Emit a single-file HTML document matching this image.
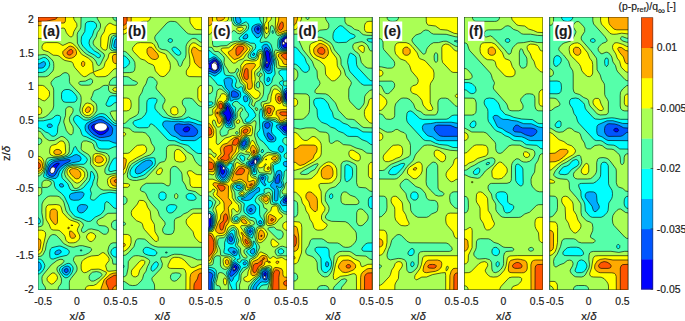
<!DOCTYPE html><html><head><meta charset="utf-8"><style>html,body{margin:0;padding:0;background:#fff;width:685px;height:321px;overflow:hidden}svg{display:block}text{font-family:"Liberation Sans",sans-serif;fill:#1a1a1a;stroke:#1a1a1a;stroke-width:0.18px}</style></head><body>
<svg width="685" height="321" viewBox="0 0 685 321">
<defs>
<clipPath id="c0"><rect x="38.00" y="17.1" width="78.4" height="272.70"/></clipPath>
<clipPath id="c1"><rect x="123.28" y="17.1" width="78.4" height="272.70"/></clipPath>
<clipPath id="c2"><rect x="208.56" y="17.1" width="78.4" height="272.70"/></clipPath>
<clipPath id="c3"><rect x="293.84" y="17.1" width="78.4" height="272.70"/></clipPath>
<clipPath id="c4"><rect x="379.12" y="17.1" width="78.4" height="272.70"/></clipPath>
<clipPath id="c5"><rect x="464.40" y="17.1" width="78.4" height="272.70"/></clipPath>
<clipPath id="c6"><rect x="549.68" y="17.1" width="78.4" height="272.70"/></clipPath>
</defs>
<g clip-path="url(#c0)"><rect x="38.00" y="17.1" width="78.4" height="272.70" fill="#fff"/>
<path d="M38.5 16.6l78.4 0.0l0 273.7l-79.4 0.0l0 -273.7z" fill="#0000ff" stroke="#000" stroke-width="0.7" stroke-opacity="0.9"/>
<path d="M38.5 16.6l78.4 0.0l0 273.7l-79.4 0.0l0 -273.7zM94.3 124.2l-2 1.0l-0.7 1.1l0 1.1l0.8 1.5l2 2.2l3.9 3.0l2.7 0.7l2.2 -0.6l2.9 -1.7l2 -2.2l0.4 -1.9l-0.3 -1.0l-0.8 -1.1l-1.5 -1.1l-4.7 -1.4zM56.1 163.6l-3.1 2.1l-2.5 3.2l-0.3 1.1l0 2.1l1 1.1l1 0.1l1 -0.7l3.6 -5.8l2.6 -3.2l-1.3 -0.5z" fill="#0055ff" stroke="#000" stroke-width="0.7" stroke-opacity="0.9"/>
<path d="M38.5 16.6l78.4 0.0l0 273.7l-79.4 0.0l0 -273.7zM97.6 119.9l-7 3.2l-1.9 2.1l-0.4 1.1l0.1 2.1l2 3.1l3.6 3.3l4.3 2.3l1.9 0.5l4 -0.3l4.8 -1.0l2 -0.9l1.1 -1.7l0.6 -4.2l-0.1 -1.1l-1.2 -2.1l-3.3 -2.9l-5.7 -3.5l-2.2 -0.4zM61.5 160.4l-6.4 1.0l-2.9 1.6l-2 2.0l-1.6 2.8l-0.8 3.2l-0.1 2.2l0.3 1.0l0.9 1.1l2.3 1.0l2 0.0l1 -0.4l1.5 -1.7l2.2 -4.2l1.6 -2.2l4.5 -3.5l5.8 -2.9l0.7 -1.0l-1.6 -0.9zM65.0 269.0l-0.7 1.1l0.1 1.1l0.6 0.9l0.9 0.5l1.5 -0.4l0.8 -1.0l-0.3 -2.1l-1 -0.6z" fill="#00aaff" stroke="#000" stroke-width="0.7" stroke-opacity="0.9"/>
<path d="M38.5 16.6l78.4 0.0l0 22.5l-1 0.0l-1 1.1l-1.1 5.1l0 1.1l0.6 1.1l2.5 0.6l0 77.6l-2 -0.2l-1.9 -1.0l-8.8 -7.2l-2 -0.7l-2 -0.1l-2.9 0.8l-10.4 5.8l-1.5 2.1l-0.4 2.2l0.5 3.1l1.6 2.2l4.3 3.6l6.9 3.6l2.9 0.9l7.8 0.0l5 2.1l2.9 0.4l0 147.0l-79.4 0.0l0 -19.5l1 0.0l1.3 -0.7l0.9 -1.1l0.6 -2.1l-0.2 -2.1l-0.7 -1.5l-0.9 -1.1l-2 -0.4l0 -193.7l3.9 0.0l1.6 -0.4l1.4 -1.1l1.2 -2.1l-0.5 -2.1l-0.7 -0.7l-1 -0.1l-3.9 2.1l-2 0.3l0 -47.4zM48.3 124.2l-1.1 1.0l0 1.1l1.1 1.1l2.9 0.0l1 -1.1l0 -1.1l-0.9 -1.0l-1.1 -0.3zM74.3 155.0l-2.5 1.5l-2.9 1.0l-4.9 1.2l-8.8 1.3l-4 1.4l-2.1 2.2l-1.8 3.7l-1.3 5.9l0.3 2.4l1 1.0l2.9 1.1l4 0.8l1.9 -0.2l1.7 -1.9l1.5 -4.3l1.2 -2.1l4.5 -4.3l2.9 -1.5l3.9 -1.3l7.3 -1.5l1.5 -1.0l0.5 -2.2l-1.2 -2.1l-3.2 -1.6zM60.0 183.8l-0.7 1.1l0.7 1.6l1 0.6l2 -0.1l0.7 -1.1l-0.7 -1.6l-1 -0.6zM76.9 192.3l-5.1 1.0l-1.8 1.2l-0.5 1.0l0.1 2.2l1.2 1.9l3 0.7l4.9 -0.2l1.9 -1.0l2.6 -2.5l0.8 -2.1l-0.1 -1.1l-0.9 -1.1l-2.4 -0.4zM79.4 205.1l-1.7 1.9l-0.4 2.4l0.8 2.1l1.5 1.2l2 0.2l2 -0.7l2.9 -2.8l1.1 -2.2l-0.1 -1.0l-1 -1.1l-1 -0.3l-3.9 -0.3zM58.6 249.9l-2.4 1.0l-1 1.1l-0.4 1.0l0.4 1.3l0.9 0.4l2 -0.2l2.5 -1.5l0.6 -1.0l-0.1 -1.1l-1.1 -0.9zM64.4 266.9l-2.4 2.1l-0.1 2.2l1.2 2.1l1.9 1.5l1.9 0.3l1 -0.3l2.1 -2.6l0.6 -2.1l-0.3 -2.1l-0.7 -1.1l-1.7 -0.9l-2 0.2z" fill="#00ffff" stroke="#000" stroke-width="0.7" stroke-opacity="0.9"/>
<path d="M38.5 16.6l78.4 0.0l0 19.9l-2 0.2l-1.5 1.2l-0.8 2.1l-1.1 6.4l0.5 1.7l1 1.0l1.9 0.7l2 0.1l0 46.1l-4.9 -0.3l-2.5 0.8l-3.5 7.4l0.1 1.1l0.9 1.0l2 0.4l2 -0.6l3.5 -2.9l2.4 -0.5l0 21.1l-2 -0.2l-1.9 -1.1l-6.9 -7.2l-1.9 -1.0l-2 -0.4l-2 0.1l-1.9 0.6l-6.9 4.5l-2 0.9l-2.9 0.5l-2.9 -0.5l-4.9 -3.8l-2 -0.6l-2.2 1.4l-0.7 1.2l-0.3 2.0l1 2.1l5.8 7.5l1.7 5.3l1.3 1.1l3.2 1.0l8.5 4.3l1.4 2.1l0.9 3.2l0.7 1.1l1.2 1.0l2 0.4l7.8 0.1l5 -2.2l2.9 -0.3l0 11.3l-2 0.1l-1.9 1.3l-3 5.6l-1 2.9l-0.3 2.2l0.4 1.0l1.9 0.6l3.9 -1.0l2 -0.2l0 22.8l-6.9 -0.9l-7.8 1.5l-2 0.9l-5.5 5.1l-1.3 0.4l-2.1 -0.4l-0.8 -1.1l-0.1 -1.0l1 -4.3l-1 -3.2l-0.1 -1.1l2.1 -4.2l0.7 -3.2l1.3 -3.2l0.2 -2.1l-1.2 -3.0l-2 -2.4l-0.7 1.1l-0.4 5.3l-1 3.2l-5.7 6.9l-3 1.9l-4.9 1.3l-3.9 -0.3l-1.8 -1.3l-2.2 -5.3l-5.2 -5.3l-0.6 -1.1l-0.4 -3.2l1.6 -4.2l2.6 -3.2l2.1 -1.3l5.9 -1.3l9.8 0.1l1.9 -1.1l1.7 -2.8l0.1 -1.1l-0.8 -1.4l-1.7 -1.8l-5.8 -4.2l-1.7 -2.2l-1.6 -3.1l-0.9 0.1l-0.8 0.9l-1.6 4.3l-1.3 2.1l-2.9 2.1l-5.2 1.6l-11 1.6l-2.7 1.1l-1 1.0l-1 2.0l-3.3 10.8l-0.4 2.2l0.8 1.0l1 0.4l6.8 2.3l1.8 1.6l0.6 4.2l0.9 2.2l2 2.1l4.1 3.2l2.8 3.2l4 8.5l1.6 5.3l3.8 5.0l1.9 1.4l4.9 1.4l5.9 2.9l2 0.4l2.3 -0.4l4.5 -4.0l4.9 -2.3l2.4 -2.2l1.9 -3.2l0.3 -5.4l0.3 -1.1l1 -1.1l1 -0.1l1.9 1.1l5 5.2l2.9 0.6l0 38.7l-2 0.1l-1.9 0.9l-1.4 1.6l-0.8 2.1l0.5 2.1l1.7 1.9l1.9 1.0l2 0.2l0 33.1l-79.4 0.0l0 -16.2l2 -0.3l2.1 -1.6l2.3 -3.2l1 -3.2l-0.6 -2.1l-1.9 -3.2l-2 -1.3l-2.9 -0.3l0 -34.8l2 -0.5l0.8 -1.4l0.1 -1.1l-0.9 -2.5l-1 -0.7l-1 0.0l0 -90.0l2 0.1l1.9 0.8l4 3.1l2.9 1.1l3.4 2.9l1.5 0.4l1.7 -0.4l1.4 -1.1l1.1 -2.1l0.5 -6.4l2.1 -4.8l0.7 -3.7l-0.3 -1.1l-0.9 -1.1l-2.4 -0.4l-1.9 0.7l-2 1.9l-2 1.2l-7.8 1.8l-5.9 0.1l0 -48.4l4.9 -0.1l3 -1.1l3.3 -3.6l1 -3.2l-0.3 -2.1l-1.1 -2.1l-1 -1.2l-1.9 -1.4l-2 -0.2l-3.9 1.7l-2 0.3l0 -42.9zM87.2 21.9l-1.3 1.1l-0.5 1.0l-0.6 7.5l-3.3 5.3l-0.4 4.3l0.5 2.9l1.5 2.4l5.1 5.3l6.2 3.4l2.9 2.3l1 0.4l0.9 -0.1l0.8 -0.7l0.5 -1.0l-0.3 -1.2l-1 -1.1l-4.8 -2.8l-2.5 -2.4l-1.8 -2.1l-1.1 -3.2l0.5 -3.2l2.8 -4.3l1.7 -5.3l2.3 -3.2l0.3 -1.0l-0.3 -2.1l-1 -1.3l-1.9 -1.2l-3 -0.3zM63.8 90.1l-1.8 1.9l-0.5 2.3l0.1 4.3l1.4 2.7l1 0.6l1.9 0.4l6.9 0.0l2 -0.3l1.6 -1.3l0.7 -2.1l-0.4 -2.1l-1.5 -2.2l-3.4 -3.5l-2.9 -1.3l-3 0.0zM55.9 246.7l-4 1.0l-1.2 1.1l-0.6 1.1l-0.4 3.1l0.1 3.2l0.4 1.5l1 1.2l2 0.2l6.8 -2.3l6.9 -1.5l2 -1.7l0.4 -1.6l-0.2 -1.1l-0.7 -1.0l-1.6 -1.1l-5.8 -2.6l-1.9 -0.2zM80.4 249.9l0 1.0l1.4 0.0l0 -1.0zM66.6 263.7l-5.6 3.2l-1 1.1l-0.6 2.1l0.8 2.1l2.8 3.8l1 1.0l1.9 0.9l2 -0.6l2.3 -1.9l2 -3.2l1 -3.2l-0.3 -2.1l-2.1 -2.8l-1.9 -0.8z" fill="#55ffaa" stroke="#000" stroke-width="0.7" stroke-opacity="0.9"/>
<path d="M38.5 16.6l42.6 0.0l-0.2 10.6l-0.9 2.2l-2.3 3.1l-0.5 2.2l0.2 8.5l2.2 4.0l4 4.5l2.6 2.2l6.2 3.6l1.9 1.7l1.6 2.1l1.4 3.4l1 0.8l1 -0.1l1 -0.9l4.2 -8.5l-0.5 -2.1l-8 -6.4l-2 -2.2l-0.9 -2.1l0.3 -2.1l2.8 -4.3l1.2 -4.3l2.2 -3.1l0.9 -2.2l0 -3.2l-3.1 -5.3l-0.3 -2.1l15.7 0.0l0.2 1.6l0.9 1.6l1.6 1.0l1.4 0.2l0 13.9l-2.9 0.3l-1.3 0.5l-1 1.1l-0.8 2.1l-1.3 7.5l0.3 2.1l1.1 1.6l2 0.8l3.9 0.3l0 25.6l-2.9 0.6l-2 1.3l-2.2 2.8l-0.9 3.2l1.1 0.5l6.9 0.1l0 8.4l-3.9 -0.4l-3 -1.2l-1.4 -2.0l-0.1 -4.3l-0.4 -0.4l-3 -0.1l-1.9 0.4l-4 3.0l-4.8 1.9l-1 1.5l-1 3.3l-1.5 3.2l0.5 1.4l3.9 2.8l0.8 1.1l0.7 2.1l0.1 4.3l-1.8 3.2l-2.7 2.6l-2 1.3l-1.9 0.5l-3 -0.3l-2.9 -1.8l-1.9 -2.3l-1 -3.2l1.4 -8.5l0 -4.3l-0.5 -2.1l-1.4 -2.1l-9.1 -9.6l-0.7 -2.2l0 -4.2l-0.5 -2.5l-1.6 -1.8l-2.3 -0.4l-2 0.7l-3 2.6l-4.8 1.8l-3 2.8l-1.2 2.1l0.2 1.7l2 3.3l0.5 2.5l0 15.9l-0.8 3.2l-4.6 5.4l-2.8 2.1l-3.1 1.2l-4.9 0.2l0 -41.3l7.9 0.0l2.9 -1.0l4.6 -4.9l0.7 -2.1l0.2 -2.2l-0.1 -3.2l-0.6 -2.1l-1.6 -2.1l-4.2 -3.8l-2.9 -0.9l-6.9 0.7l0 -38.6zM88.8 79.4l-3.3 1.7l-5.7 0.4l-0.9 1.1l0 1.1l0.9 1.0l1.8 0.5l6.9 0.0l1.9 -0.4l2 -1.9l0.2 -2.4l-1.2 -1.6l-1 -0.1zM67.9 106.9l1.9 -0.2l2 0.7l1 1.1l0.4 1.8l-0.5 2.1l-2.8 4.3l-0.6 2.1l0.6 3.2l2.8 4.3l0.6 2.1l-0.1 3.2l-0.4 1.9l-1 1.1l-1 0.2l-1.9 -1.0l-2.6 -3.3l-2.6 -8.5l0.3 -2.0l1.5 -4.4l0.2 -6.4l0.5 -1.0zM112.0 111.1l4.9 -0.3l0 10.3l-1.5 -0.1l-1.5 -1.1l-3.1 -5.3l-0.6 -2.2l0.8 -1.0zM38.5 131.0l1.7 0.6l1.2 1.1l2.9 4.2l2.2 2.2l2.8 1.5l4.9 -0.1l6.8 -4.0l1 -0.1l2 0.7l2.5 2.0l1.7 2.1l0.9 2.1l0.3 3.2l-0.2 5.4l-1.1 2.1l-1.2 1.0l-2.9 1.3l-4 0.8l-10.7 0.6l-2 0.5l-1.2 2.2l-1.2 7.4l-1.5 4.1l-3 3.4l-0.9 0.5l-2 0.3l0 -31.4l2 -0.2l0.9 -0.5l1 -1.3l0.5 -1.5l-0.6 -2.1l-1.8 -0.9l-2 -0.1l0 -7.1zM83.6 141.0l2.9 -0.1l4.9 1.5l2 2.0l1.2 4.3l1.7 1.9l2 0.8l7 1.5l1.8 0.9l1.3 1.2l0.9 2.2l-0.2 3.2l-1 2.7l-3.1 5.8l-0.2 3.2l1.3 2.0l2 0.6l8.8 -1.7l0 17.7l-6.9 -0.7l-6.8 0.1l-3 -1.3l-2.6 -2.9l-0.7 -2.1l1 -6.4l-0.4 -3.2l-1.5 -3.2l-5.3 -6.4l-0.3 -1.0l0.3 -4.3l-0.4 -2.1l-1.8 -2.7l-5.9 -3.5l-1.1 -1.3l-0.4 -1.0l0.4 -5.4l0.5 -1.0zM72.8 165.6l5.9 0.5l5.6 1.7l2.1 2.2l1.2 3.2l0 3.2l-1.3 3.1l-5.7 6.4l-1.9 1.6l-2 0.9l-1.9 0.0l-1 -0.6l-2.2 -4.0l-5.7 -6.6l-1.2 -3.0l0.2 -3.2l1.8 -3.2l2.2 -1.3zM44.4 180.4l1.9 -0.3l2 0.2l2.5 1.4l0.5 1.0l0 1.1l-1.1 1.8l-2.9 1.7l-4.9 0.2l-0.6 -1.6l0.3 -3.2l0.5 -1.0zM38.5 187.6l2.9 0.1l0.3 0.4l0.1 4.2l-0.4 1.4l-1 1.3l-0.9 0.6l-2 0.3l0 -8.3zM48.3 196.4l1.9 -0.4l6.9 0.1l2 0.6l1.9 1.6l2 2.4l1 2.0l1.9 7.7l2 3.2l4.9 4.9l6.8 2.3l3.2 2.4l0.7 2.2l-2.1 4.2l0.2 1.7l1 1.0l1 0.2l1 -0.4l3.9 -2.8l2.9 -0.4l6.9 1.6l4.9 3.6l1.9 0.2l1.4 -0.4l1.3 -1.1l0.7 -2.1l-0.3 -2.2l-0.6 -1.0l-2.5 -1.5l-5.9 -0.5l-1.9 -1.8l-0.4 -1.5l0.2 -1.1l1.2 -1.5l4.9 -2.5l2.9 -2.6l2 -1.2l8.8 -0.1l0 6.9l-2 0.2l-1.9 0.9l-1.4 2.0l-0.2 2.2l0.6 2.1l1 1.2l1.9 1.1l2 0.2l0 12.8l-3.9 0.0l-2 0.8l-1 0.9l-1.2 2.2l-1 4.2l0.9 3.2l3.6 5.3l0.7 4.7l3.9 0.1l0 26.1l-47.5 0.0l-0.1 -7.4l0.3 -2.2l1.3 -2.1l5.1 -6.4l1 -2.1l0.1 -2.1l-0.5 -2.2l-3.2 -5.3l0.4 -2.6l1 -1.3l0.9 -0.6l6.9 -0.5l2.9 -0.9l3.2 -1.6l2.4 -2.1l0.5 -1.0l-0.1 -1.1l-1.2 -1.1l-7.7 -2.0l-3 0.0l-5.8 1.5l-2 -0.2l-3.9 -1.1l-4.3 -2.4l-3.6 -4.4l-3.9 -3.9l-1.9 -0.6l-2 0.1l-2 1.2l-2.5 4.4l-1.4 4.1l-0.9 5.5l-2.1 4.2l-0.9 1.2l-1.5 0.9l-3.4 0.5l0 -29.6l3.5 -0.7l1.4 -1.0l0.5 -1.1l0.2 -4.3l-1.3 -7.4l0.2 -8.6l1.4 -3.1l2.9 -3.2zM92.5 272.2l-2.5 2.2l-0.9 2.1l0.1 2.1l0.5 1.1l1.7 1.3l2 0.1l1.9 -0.8l4.6 -2.8l1.9 -2.1l0.1 -1.0l-0.7 -1.1l-2 -1.2l-2.9 -0.5zM60.1 259.3l2 0.1l1 0.4l0.7 0.7l0.1 1.1l-1.7 2.1l-4.7 3.2l-0.7 2.1l0.6 2.2l2.7 4.2l1.3 3.2l0.1 3.2l-0.6 2.1l-2.4 3.2l-0.6 3.2l-12.1 0.0l-0.6 -3.2l-2.8 -4.2l-0.5 -4.3l0.3 -2.1l1.3 -2.1l7.8 -9.6l5.7 -4.3z" fill="#aaff55" stroke="#000" stroke-width="0.7" stroke-opacity="0.9"/>
<path d="M38.5 16.6l34.9 0.0l0.7 3.2l2.6 3.7l0.3 2.7l-3.1 5.3l-1.1 4.1l-1 1.2l-1 0.1l-1 -0.4l-1.9 -1.7l-1.6 -2.3l-1.3 -3.5l-1 -0.8l-1 -0.2l-1.5 0.3l-6.3 2.6l-5.9 5.7l-2 1.4l-1.9 0.5l-7.9 -0.1l0 -21.8zM108.1 24.0l1.9 -1.0l4.1 2.1l2.8 0.4l0 7.8l-4.9 0.3l-2.2 1.1l-1.1 2.1l-1.6 11.7l-1 1.6l-1 0.1l-1.7 -0.6l-1.5 -1.1l-1.2 -2.1l0.1 -8.5l0.7 -2.2l2.7 -3.9l1.2 -4.6zM44.4 43.1l1.9 -0.5l10.8 0.0l2 0.5l2.9 2.0l1 0.3l5.9 -2.8l1.9 0.1l2 0.9l3.9 3.6l4.9 7.1l6.7 3.8l3.5 3.2l0.9 2.1l0.7 8.3l1 0.0l6.8 -2.6l2.1 -1.4l0.7 -1.1l1.2 -4.2l2.8 -4.3l1 -4.4l1 -0.8l1 -0.2l5.9 -0.3l0 16.0l-2.9 0.6l-5.9 6.2l-3 1.4l-6.8 0.2l-2 -0.3l-1.6 -1.3l-1.3 -2.8l-3 0.9l-4.1 2.9l-1.7 0.5l-1 -0.2l-2.1 -1.3l-6.6 -7.5l-1.1 -1.9l-0.8 -2.4l-1.2 -1.5l-6.8 -1.4l-2 -1.1l-3.9 -3.3l-2 -0.7l-3.9 -0.2l-4.9 -3.4l-4.9 -1.5l-1.3 -1.8l-0.1 -2.1l0.9 -2.1zM38.5 85.3l3.9 0.1l2 0.8l3.9 3.8l1 1.5l0.3 2.8l-0.6 2.2l-2.7 3.2l-1.9 1.2l-2 -0.5l-2.9 -1.9l-2 -0.3l0 -12.9zM114.0 87.9l2.9 -0.4l0 4.0l-2.8 -0.4l-1.2 -1.0l-0.1 -1.1zM85.5 103.6l2 -0.6l2.9 0.6l2.2 1.4l1.1 2.1l0 3.2l-0.9 2.1l-1.9 2.2l-2.1 1.0l-2.3 0.0l-1.9 -0.9l-1.2 -1.2l-1 -2.1l0 -2.2l0.7 -2.1zM38.5 106.7l1.2 0.4l1.3 1.1l0.5 1.0l0.3 2.2l-0.4 1.8l-1 1.1l-2.9 0.6l0 -8.2zM61.0 140.9l2 0.3l1 0.8l1.2 2.4l0.5 7.5l-0.2 1.0l-0.7 1.1l-2.8 1.4l-3.9 0.9l-4.7 -0.2l-2.5 -1.1l-0.9 -1.0l-0.4 -2.1l0.3 -3.2l0.7 -2.2l1.6 -1.2l3.9 -1.0l3.9 -3.1zM95.3 153.6l3 0.0l2.9 0.5l3 1.4l1.7 1.7l0.7 2.1l-0.3 2.1l-1.2 2.1l-1.9 1.8l-3 1.0l-2.9 0.0l-2 -0.8l-1.9 -1.9l-0.5 -2.2l0.2 -5.3l0.3 -1.1l1 -1.0zM38.5 156.3l1.9 0.4l2 1.6l1.4 3.1l0.3 4.3l-0.7 3.2l-1.1 2.1l-1.9 1.8l-2.9 0.7l0 -17.2zM69.8 167.6l4 -0.6l3.9 0.5l3.2 1.4l2.7 2.2l1.1 2.1l0 3.2l-2.1 3.1l-3 2.8l-1.9 0.8l-1 0.0l-1.9 -0.9l-3 -2.7l-3.7 -4.2l-1 -2.1l-0.2 -2.2l1 -2.1zM114.0 175.2l2.9 -0.3l0 13.6l-3.9 -0.3l-3 -1.0l-1.4 -1.3l-0.8 -2.1l-0.4 -3.2l0.6 -2.1l2 -1.8zM48.3 204.9l7.8 -0.4l3.5 0.6l1.4 1.8l1.6 5.7l5.3 5.7l2.4 1.7l6.5 2.2l1.7 1.0l0.7 1.1l0.1 1.1l-1.6 3.1l-0.4 2.2l2.1 4.2l0.5 2.2l-0.7 2.1l-1.8 2.1l-1.7 1.0l-1.9 0.5l-4 0.1l-1.9 -0.6l-1.9 -2.0l-1 -3.8l-1 -1.6l-4 -4.0l-1.9 -0.7l-4.9 -0.2l-1.3 -0.4l-1.2 -1.1l-1.6 -4.2l-2.7 -4.3l-0.5 -2.1l0 -9.6l0.7 -2.1zM38.5 230.2l2.9 0.0l2.2 0.5l1.8 1.8l0.3 2.4l-3.6 16.0l-1.7 2.5l-1.3 0.7l-1.6 0.2l0 -24.1zM90.4 232.6l2 0.3l1.7 1.0l1.1 1.0l0.5 1.1l-0.1 1.1l-1.2 2.1l-2 2.0l-1 0.4l-1.7 -0.3l-1.2 -0.9l-1.7 -2.3l-0.3 -1.0l0.2 -1.1l1.3 -2.1zM102.2 252.7l1 -0.1l1.9 1.0l2.5 2.6l1.4 2.2l0 2.3l-2.4 3.0l-1 2.1l1.5 5.0l1.9 0.5l7.9 -0.8l0 19.8l-31.7 0.0l0.3 -2.3l1.7 -1.9l2.2 -0.5l4 -0.1l2.9 -1.3l9 -8.8l1.1 -2.1l-0.1 -1.1l-6.1 -2.8l-1.9 -0.3l-6.9 0.3l-4.9 2.9l-1.9 0.4l-1 -0.2l-1.6 -1.3l-0.8 -2.2l-0.1 -4.2l0.8 -3.2l2 -2.2l3.6 -2.1l3.9 -1.3l6.9 -0.6zM52.2 273.0l2 0.0l1 0.6l1.6 1.8l0.7 2.1l-0.4 1.9l-1 1.4l-2.9 2.9l-2 0.5l-3 -2.4l-0.9 -1.2l-0.3 -2.0l0.5 -1.1l1.7 -2.1z" fill="#ffff00" stroke="#000" stroke-width="0.7" stroke-opacity="0.9"/>
<path d="M38.5 16.6l27 0.0l-0.1 4.2l-0.4 1.4l-1 0.8l-2 0.1l-3.9 -0.7l-5.9 0.9l-5.9 2.3l-8.8 0.1l0 -9.1zM68.9 46.4l1.9 -0.3l3 1.2l1.9 2.3l0.8 2.1l0 2.2l-0.8 1.5l-1.7 1.6l-2.2 1.1l-2.9 0.3l-3 -0.8l-1.9 -1.6l-1.2 -2.1l0 -2.2l0.8 -1.0zM114.0 54.6l2.9 -0.4l0 9.6l-2.2 -0.4l-1.3 -1.0l-0.5 -1.1l-0.6 -4.3l0.7 -1.8zM82.6 61.4l1 -0.1l1 1.0l0.2 1.1l-0.2 1.9l-1 1.1l-1 0.0l-0.9 -0.8l-0.3 -1.1l0.2 -2.0zM87.5 107.1l1 -0.3l1.2 0.3l0.8 1.1l0.1 1.0l-1.2 2.5l-1.9 0.9l-1 -0.1l-1 -1.0l-0.2 -1.2l0.9 -2.1zM56.1 149.5l2 -0.1l1.9 0.6l1.5 1.9l0 1.0l-1 1.1l-2.4 0.7l-2 -0.1l-1.6 -0.6l-0.7 -1.1l0 -1.0l0.4 -1.1zM97.3 155.9l2.9 0.1l2 1.2l1.2 2.1l-0.1 1.1l-1.1 1.5l-2 0.9l-1.9 0.2l-1.8 -0.5l-1.1 -1.1l-0.3 -1.0l0.1 -2.2l1.1 -1.8zM38.5 159.2l1.9 0.9l1.1 1.3l0.9 2.2l0.2 3.2l-0.7 2.1l-1.5 1.7l-0.9 0.5l-2 0.3l0 -12.2zM71.8 168.8l2 -0.2l2.4 0.3l2.2 1.1l1.2 1.0l1.1 2.2l0.2 2.1l-1 2.1l-1.2 1.1l-2 0.4l-1.2 -0.4l-1.7 -1.2l-3 -3.2l-1.1 -2.0l-0.2 -1.1l0.4 -1.0zM113.0 177.4l3.9 -0.7l0 9.5l-2 -0.1l-1.9 -0.6l-1 -0.7l-1.3 -2.1l-0.4 -2.1l0.3 -1.1l0.8 -1.0zM52.2 209.2l2 -0.2l1.5 0.4l1.1 1.0l0.5 1.1l0.2 9.6l-0.3 2.1l-1.1 1.2l-0.9 0.2l-1 -0.5l-3.2 -4.1l-1 -2.1l-0.2 -2.1l0.3 -4.3l1.1 -1.8zM70.8 225.3l1 -0.3l1.1 0.4l-1.1 0.3zM68.9 227.0l0.4 0.5l-0.4 1.4l-1.1 -0.4l0.1 -1.0zM69.8 231.0l2 0.4l3 2.9l0.7 1.7l-0.2 1.1l-1.1 1.0l-2.4 0.2l-1.6 -1.2l-0.7 -3.2zM38.5 238.8l1.9 0.9l0.6 2.7l-0.9 6.4l-0.6 1.2l-1 0.8l-1 0.0l0 -12.0zM113.0 273.2l3.9 -0.4l0 17.5l-16 0.0l0.2 -2.1l3.1 -8.5l5.8 -5.3z" fill="#ffaa00" stroke="#000" stroke-width="0.7" stroke-opacity="0.9"/>
<path d="M38.5 16.6l18.6 0.0l0 1.0l-0.8 1.1l-1.1 0.6l-8.9 1.9l-8.8 0.1l0 -4.7zM70.8 49.4l1 0.3l1 1.0l0 2.1l-2 2.0l-0.9 0.3l-1.7 -0.2l-1 -1.0l-0.1 -1.1l0.5 -1.1l1.3 -1.4zM38.5 162.5l1 0.7l0.8 1.4l0.1 2.2l-0.9 1.4l-2 0.5l0 -6.2zM115.9 179.5l1 0.0l0 3.3l-1.1 -0.1l-1.5 -1.0l-0.1 -1.1zM114.0 275.4l2.9 -0.3l0 10.6l-2 0.3l-1.4 1.1l-0.6 1.1l-0.3 2.1l-4.1 0.0l-0.2 -2.1l-2.2 -5.2l0.3 -2.3l1.7 -1.7z" fill="#ff5500" stroke="#000" stroke-width="0.7" stroke-opacity="0.9"/>
<ellipse cx="100.8" cy="127.0" rx="6.6" ry="4.2" transform="rotate(0 100.8 127.0)" fill="#fff" stroke="#000" stroke-width="0.7" stroke-opacity="0.9"/>
<ellipse cx="52.6" cy="170.2" rx="2.4" ry="3.4" transform="rotate(20 52.6 170.2)" fill="#fff" stroke="#000" stroke-width="0.7" stroke-opacity="0.9"/>
</g>
<rect x="38.25" y="17.35" width="77.9" height="272.20" fill="none" stroke="#000" stroke-opacity="0.65" stroke-width="0.5"/>
<g clip-path="url(#c1)"><rect x="123.28" y="17.1" width="78.4" height="272.70" fill="#fff"/>
<path d="M123.8 16.6l78.4 0.0l0 273.7l-79.4 0.0l0 -273.7z" fill="#0000ff" stroke="#000" stroke-width="0.7" stroke-opacity="0.9"/>
<path d="M123.8 16.6l78.4 0.0l0 273.7l-79.4 0.0l0 -273.7zM185.0 127.4l-1.3 1.0l-0.5 1.1l0.1 1.0l1.1 1.1l1.1 0.3l2 -0.2l1.7 -1.2l0.6 -2.1l-0.5 -1.0l-1.8 -0.7z" fill="#0055ff" stroke="#000" stroke-width="0.7" stroke-opacity="0.9"/>
<path d="M123.8 16.6l78.4 0.0l0 273.7l-79.4 0.0l0 -273.7zM176.2 124.2l-1.4 1.0l-0.4 1.1l0.3 3.6l1.1 1.7l5 4.3l2.8 0.5l9.8 0.0l1.9 -0.7l1.8 -2.0l0.6 -2.1l-0.6 -2.1l-3.5 -3.2l-2.2 -1.5l-3 -0.8l-4.8 0.5l-5 -0.7z" fill="#00aaff" stroke="#000" stroke-width="0.7" stroke-opacity="0.9"/>
<path d="M123.8 16.6l78.4 0.0l0 108.5l-4 -0.5l-4.8 -1.9l-4 -0.9l-4.9 0.2l-5.9 -0.8l-6.8 0.2l-4.9 -0.5l-2 0.2l-1.6 0.9l-0.7 2.2l0.4 1.6l1 1.5l6.8 7.6l1.7 1.0l3.2 1.0l3.9 2.7l2 0.9l12.7 0.2l2 -0.7l3.9 -2.9l2 -0.4l0 153.6l-79.4 0.0l0 -273.7zM146.3 160.4l-4.1 2.1l-5.7 4.9l-1.2 2.6l0 2.1l0.6 1.1l1.6 0.7l3.2 -0.7l9.5 -6.7l1.9 -1.9l0.4 -2.1l-1.3 -1.9l-2 -0.6z" fill="#00ffff" stroke="#000" stroke-width="0.7" stroke-opacity="0.9"/>
<path d="M123.8 16.6l78.4 0.0l0 105.3l-2 -0.2l-4.9 -2.1l-3.2 -0.8l-3.7 -1.9l-4.8 2.2l-7.9 0.3l-3.9 -0.3l-8.8 -2.1l-4 -3.5l-2.9 -3.3l-1.2 -2.0l0.1 -3.2l1.8 -3.2l0.2 -2.1l-0.9 -1.1l-1 -0.3l-2.9 -0.3l-3.1 0.6l-1.3 1.1l-0.6 1.0l-0.4 2.2l-0.1 8.5l-1.5 3.2l-3.8 3.9l-6.8 2.3l-1.4 1.2l-0.2 1.1l0.5 1.1l2 2.2l2 1.1l1.9 0.3l7.9 -0.1l1 -0.4l1 -1.0l0.9 -2.1l1 -0.3l1 0.3l2.9 2.1l12.8 13.6l1.9 0.7l4.9 0.2l5.9 2.8l6.9 1.7l1.9 1.2l1.9 2.2l5 4.0l1.9 0.8l4 0.0l0 136.8l-79.4 0.0l0 -22.9l1 0.0l0.3 -0.5l-0.3 -1.6l-1 0.0l0 -197.3l2 -0.2l1.9 -1.1l2.1 -2.2l0.9 -2.1l-0.7 -2.2l-2.3 -2.6l-1.9 -1.5l-2 -0.3l0 -39.2zM168.9 38.9l-0.8 1.1l0 1.1l0.8 0.9l1.9 0.5l1 -0.5l0.6 -0.9l0.1 -1.1l-0.7 -1.0l-1 -0.4zM172.8 47.5l-0.7 1.0l0 1.1l1.7 2.7l3.2 2.6l1.6 0.4l1.3 -0.4l0.8 -1.0l0.1 -1.1l-0.4 -1.1l-1.7 -2.1l-3 -2.3l-1.9 -0.2zM146.7 158.2l-6.8 3.2l-4.9 3.2l-2.5 2.2l-1.9 3.1l-0.6 2.2l0 2.1l1.5 2.2l2.1 1.0l2.9 0.1l6.9 -2.2l1.9 -1.3l8.9 -8.1l0.7 -1.3l0.5 -2.1l-0.5 -4.3l-1.7 -0.5zM160.7 192.3l-1.3 1.1l-0.5 1.1l0 3.2l1.1 1.7l1 0.6l2 0.2l1 -0.2l0.9 -0.7l1.1 -1.6l0.1 -3.2l-0.6 -1.1l-1.5 -1.2l-2 -0.3zM189.3 193.4l-1.8 0.6l-1.3 1.5l0.1 2.2l0.6 1.0l1.5 1.2l2 0.4l3 0.0l1.9 -0.7l0.7 -0.9l0 -1.0l-1.3 -2.2l-2.3 -1.7zM168.6 205.1l-1.7 1.8l-0.4 2.5l0.8 2.1l1.2 1.1l1.3 0.4l2 -0.2l2 -1.2l1.9 -2.2l1.1 -2.2l-0.1 -1.0l-1 -1.1l-1 -0.3l-3.9 -0.2zM145.1 247.7l-1.4 1.1l-0.7 2.1l0.8 2.1l1.5 1.1l3 1.1l4.9 0.6l1.9 -0.4l1.4 -1.3l0.4 -1.1l-0.1 -1.0l-2.4 -2.1l-6.1 -2.4l-2 -0.2zM165.7 252.0l-0.1 1.0l1.5 0.0l0 -1.0zM154.4 262.6l-2.5 3.2l-0.9 2.2l0.1 2.1l1.1 1.1l1 -0.2l1.9 -1.4l2.3 -2.7l0.9 -2.1l-0.2 -1.6l-1 -1.2l-1 -0.3z" fill="#55ffaa" stroke="#000" stroke-width="0.7" stroke-opacity="0.9"/>
<path d="M123.8 16.6l78.4 0.0l0 17.6l-10.8 0.1l-3 -0.5l-1.9 -1.3l-9.8 -10.3l-2 -0.7l-3.9 -0.2l-1.9 0.5l-2 1.2l-10.7 11.7l-1.1 1.6l-0.4 1.6l0.5 2.1l2.2 3.2l1.5 4.3l0.9 1.0l2.2 1.0l3.9 0.5l2 1.1l8.7 9.1l1.2 2.2l0.8 2.8l1 1.1l1 0.0l0.8 -0.7l1.5 -4.3l2.6 -3.8l0.5 -2.6l0 -8.5l0.6 -2.1l1.8 -2.7l3 -2.5l1 -0.6l1.9 -0.2l2 0.7l3.9 3.0l2 0.3l0 64.2l-2 -0.2l-2 -1.0l-5.8 -6.5l-3 -0.7l-3.9 0.1l-1.2 0.4l-1.3 1.1l-0.8 2.1l0.4 2.6l2.7 3.8l0.6 2.1l-0.5 2.1l-1.8 2.5l-2.4 1.8l-4.5 0.8l-3.9 -0.2l-3.9 -1.6l-1.5 -1.1l-4.6 -6.4l0 -3.2l1.9 -3.2l0.4 -2.1l-1.2 -2.2l-7.5 -8.5l-0.4 -2.1l1.2 -3.2l-0.4 -2.2l-3.6 -4.0l-3 -0.6l-1.3 0.4l-1.2 1.1l-1.7 5.3l-2.6 4.0l-1.4 4.5l-2.7 4.3l-0.4 2.1l0 11.7l-0.7 3.2l-1.9 2.1l-6.7 3.5l-3.9 3.7l-0.9 0.5l-2 0.2l0 -38.2l11.8 -0.1l1.7 -0.5l1 -1.0l0 -1.1l-0.8 -0.9l-3.9 -1.6l-3.9 -3.0l-2 -0.5l-3.9 0.0l0 -3.9l6.8 -0.1l3 -0.5l1 -0.6l1 -1.4l0.5 -3.5l-0.3 -4.2l-1.7 -3.2l-6.4 -6.8l-1.9 -1.0l-2 -0.1l0 -34.7zM123.8 127.7l4.9 0.5l1.9 1.2l2 1.9l2 0.8l7.8 0.1l2.9 0.7l2 1.8l2.6 3.3l1.6 5.3l2.4 3.2l0.7 2.2l-0.6 2.1l-2.8 3.4l-1.3 0.8l-5.5 1.9l-5.9 3.0l-6.3 3.7l-1.6 1.4l-1.9 3.8l-1.4 5.4l0.3 3.2l2 1.9l3 1.0l3.9 0.2l7.9 -1.7l1.9 -1.1l9.8 -10.6l2.9 -3.9l2 -1.0l3 -0.6l1.4 -1.2l1 -3.2l0 -7.5l0.3 -2.1l1.2 -1.7l1.9 -0.8l4 -0.1l2.9 0.4l2.9 0.8l2.9 1.4l5 4.5l4.9 2.9l2.9 6.3l2.9 3.3l2 1.2l2 0.2l0 29.7l-2 -0.3l-4.9 -3.8l-6.9 -1.5l-1.6 -1.0l-1.6 -4.2l-2.8 -4.3l-0.4 -6.4l-0.7 -2.1l-3.6 -4.3l-1.5 -1.0l-1.5 -0.5l-2.3 0.5l-1.7 2.1l-0.4 2.1l0 11.7l-0.5 2.1l-0.9 1.1l-2 -0.2l-2.9 -2.0l-2 -0.5l-15.7 0.1l-2.9 1.6l-2 2.1l-1.1 2.1l0.2 1.1l0.9 1.0l3 1.0l1.4 1.2l2.3 5.3l3.1 4.4l5.9 6.5l1.1 1.9l1.2 4.3l5.4 6.4l0.4 2.1l-2.4 4.2l-0.2 2.2l0.8 2.1l1.5 1.2l3 0.5l2.9 -0.2l1.2 -0.4l1.3 -1.1l1 -3.2l0 -8.5l0.4 -1.4l1 -1.3l4.9 -1.9l3 -2.5l3.9 -1.6l2.9 -2.3l2 -1.0l1.9 -0.3l7.9 0.0l0 38.5l-44.1 -0.2l-3 -0.6l-2.9 -1.3l-2.6 -1.7l-3.4 -3.2l-1.8 -1.2l-5 -0.4l-1.9 0.3l-1.6 1.3l-2 6.4l-5.2 5.9l-3 2.4l-2.9 0.6l0 -30.1l2 -0.4l0.6 -0.8l0 -1.1l-1 -1.0l-1.6 -0.2l0 -17.6l2 -0.2l0.9 -0.6l1 -1.3l0.4 -1.4l-0.2 -2.2l-0.7 -1.0l-1.4 -1.2l-2 -0.2l0 -68.6zM175.7 193.7l1 0.0l0.8 0.8l0.4 1.0l-0.2 2.2l-1 0.9l-1 0.1l-1 -1.0l-0.2 -1.1l0.2 -1.9zM171.8 254.9l2.9 -0.7l5.9 0.2l10.8 2.8l5.9 2.6l4.9 0.1l0 30.4l-47.5 0.0l-0.2 -5.3l-0.7 -2.1l-1.6 -2.6l-0.3 -1.7l0.5 -1.1l8.1 -8.5l1.4 -2.1l0.5 -3.2l-1.6 -4.3l-0.2 -1.0l0.4 -1.0l1 -0.4l4.9 0.2zM172.4 273.3l-1.6 1.5l-0.4 2.7l0.8 2.2l1.6 1.2l1.9 0.3l2 -0.8l2.9 -2.9l1.2 -2.1l0 -1.0l-1.2 -1.2l-3.9 -0.4zM133.6 256.1l1.9 -0.4l3 0.0l5.9 1.3l4.3 2.4l0.8 1.1l0.2 1.1l-0.7 2.1l-1.7 3.2l-1.3 4.3l-2.3 3.2l-1.1 4.2l-1.2 2.1l-3.9 3.9l-2 0.8l-2.9 0.2l-3 -0.5l-4.8 -3.4l-2 -0.3l0 -4.5l2 -0.3l0.9 -0.6l1 -1.5l1.4 -6.5l0.2 -6.4l2.3 -3.2z" fill="#aaff55" stroke="#000" stroke-width="0.7" stroke-opacity="0.9"/>
<path d="M123.8 16.6l26.8 0.0l0 1.0l-0.8 2.2l-1.2 1.0l-1.3 0.5l-3.9 0.0l-2.3 0.6l-3.6 2.8l-4.9 2.2l-5.9 6.0l-1.9 1.0l-2 0.2l0 -17.5zM190.4 16.6l11.8 0.0l0 13.2l-5.9 -0.3l-2 -1.1l-0.9 -1.1l-3.1 -4.3l-0.4 -2.2l0 -4.2zM137.5 43.0l2.9 -0.4l10.8 0.2l2 1.0l1 1.0l2 3.7l1.9 2.3l1.9 1.2l5.2 1.9l0.9 1.0l1.2 3.2l2.5 4.0l0.6 3.5l-0.2 3.2l-0.7 2.1l-3.6 4.3l-1.5 1.0l-1.4 0.5l-3 -0.7l-4.6 -5.1l-1.1 -4.3l-1.1 -1.6l-4.9 -1.9l-3.6 -2.9l-4.3 -1.4l-6.8 -7.1l-1.2 -2.1l0.4 -2.1l2.7 -3.2zM192.4 43.1l1 -0.3l1.9 0.3l4.9 3.3l2 0.3l0 30.1l-12.8 -0.2l-1.9 -0.8l-1.2 -1.7l0 -3.2l2.8 -4.3l0.7 -2.1l0 -5.3l-1 -7.5l0.3 -4.2l1.3 -2.9zM200.2 85.7l2 -0.3l0 16.6l-1.6 -0.2l-1.4 -0.9l-0.8 -1.2l-0.6 -2.2l0 -8.5l0.8 -2.1zM123.8 98.0l2.9 0.0l2 0.5l1.4 1.2l0.6 1.0l0.5 3.2l-0.2 3.2l-0.9 2.1l-1.4 1.2l-2 0.5l-3.9 0.0l0 -12.9zM172.8 106.9l1.9 -0.2l1 0.2l1 0.6l1 1.6l0.3 3.3l-0.4 1.1l-1.3 1.1l-1.6 0.3l-1.9 -0.3l-1.4 -1.1l-0.6 -1.1l-0.1 -3.2l0.5 -1.0zM123.8 132.5l1 0.2l0.9 1.0l-0.1 1.1l-1.2 1.1l-1.6 0.2l0 -3.6zM137.5 145.3l4.9 -0.4l2 0.4l0.9 0.6l1.4 2.8l-0.5 3.2l-0.9 1.0l-3.1 2.1l-5.7 2.9l-6.9 4.3l-1.4 2.4l-2.6 7.5l-0.8 1.4l-1 0.8l-1 0.0l0 -20.9l4.9 -0.1l1.9 -0.7l5.9 -6.0zM176.7 149.5l1.9 -0.1l2 1.0l4.2 4.6l1 2.2l0.1 1.0l-0.4 1.5l-1 1.3l-1.9 0.8l-3 0.2l-2.9 -0.5l-1.6 -1.1l-0.7 -2.2l0 -5.3l0.7 -2.1zM159.1 168.5l2 -0.6l1.1 1.0l0.2 2.1l-1.3 2.6l-1 0.7l-1.9 0.3l-1.1 -0.4l-0.8 -1.0l0 -1.1l1.3 -2.1zM188.4 170.9l1 -0.2l2 0.2l3.9 2.9l2 0.8l4.9 0.2l0 12.7l-8.8 -0.1l-1.5 -0.4l-1.3 -1.1l-0.6 -2.1l-0.2 -5.3l-2.5 -5.3l0.1 -1.1zM123.8 183.4l4.7 0.4l1.1 1.1l-0.1 1.0l-1.8 1.4l-4.9 0.1l0 -4.0zM139.4 200.3l4 0.3l1.9 1.2l1 1.6l1.3 3.8l2.6 3.9l0.9 7.9l3.2 5.3l0.7 7.4l3.2 5.4l0 3.2l-1.1 1.1l-1.7 -0.1l-1.2 -0.9l-9.7 -10.8l-1.2 -2.1l-0.9 -3.4l-1 -1.4l-4.9 -2.0l-3.9 -3.9l-1 -1.6l-0.4 -2.6l0.7 -2.2l5.5 -6.4l1.4 -3.1zM193.4 213.3l8.8 -0.1l0 29.5l-3 -0.6l-3.8 -4.0l-1.2 -2.1l-1.2 -4.3l-5.5 -6.3l-1.2 -2.2l-0.2 -2.1l0.6 -2.1l4.4 -4.3zM123.8 234.4l3.9 0.1l1.9 0.9l1 1.4l0.4 1.3l0.1 4.3l-0.9 3.2l-2.4 3.2l-3 2.2l-2 0.2l0 -16.8zM174.7 257.3l3.9 0.1l3 1.0l3 2.1l4.8 5.4l2 1.5l2.9 -0.1l4.9 -2.5l3 -0.5l0 26.0l-16.3 0.0l0.1 -17.0l-0.9 -3.2l-1.3 -1.1l-1.2 -0.4l-11.8 -0.2l-2 -0.4l-0.9 -1.1l0.2 -2.1l2.6 -5.4l2.1 -1.6zM141.4 260.3l2 0.0l1 0.5l0.5 0.8l-0.3 2.1l-4.8 6.4l-1.3 4.5l-1 1.5l-2 0.8l-1.9 -0.2l-1 -0.6l-1.1 -1.7l-0.2 -2.2l0.5 -2.1l7.6 -8.5z" fill="#ffff00" stroke="#000" stroke-width="0.7" stroke-opacity="0.9"/>
<path d="M123.8 16.6l7.4 0.0l0 4.2l-1 3.2l-2.5 3.2l-2.9 2.2l-2 0.3l0 -13.1zM149.2 47.2l2 0.0l1 0.5l5.4 6.2l0.9 2.1l-0.4 1.7l-1 1.1l-2 0.8l-2.9 -0.5l-2 -1.4l-2.2 -2.8l-1 -2.1l0 -3.2l0.5 -1.1zM193.4 47.2l1.9 0.3l3.9 3.1l3 0.5l0 16.9l-2 -0.2l-1 -0.5l-3 -2.8l-1.6 -2.1l-1 -4.3l-2.2 -6.4l0.6 -3.2zM123.8 157.9l1.2 0.3l1.1 1.1l0.2 2.1l-1.5 6.8l-1 1.3l-1 0.0l0 -11.6zM123.8 243.3l1 0.4l0.5 0.8l-0.1 1.1l-1.4 1.1l-1 0.0l0 -3.4zM199.2 268.9l3 -0.3l0 21.7l-12.3 0.0l0.1 -12.8l0.7 -3.1l0.7 -1.1l2.8 -2.1z" fill="#ffaa00" stroke="#000" stroke-width="0.7" stroke-opacity="0.9"/>
<path d="M123.8 16.6l3.3 0.0l0 4.2l-0.5 2.2l-0.9 1.2l-1.3 0.9l-1.6 0.2l0 -8.7zM200.2 273.2l2 -0.2l0 17.3l-8.3 0.0l0 -4.2l0.4 -2.5l3 -4.6l1.3 -4.6z" fill="#ff5500" stroke="#000" stroke-width="0.7" stroke-opacity="0.9"/>
</g>
<rect x="123.53" y="17.35" width="77.9" height="272.20" fill="none" stroke="#000" stroke-opacity="0.65" stroke-width="0.5"/>
<g clip-path="url(#c2)"><rect x="208.56" y="17.1" width="78.4" height="272.70" fill="#fff"/>
<path d="M209.1 16.6l78.5 0.0l0 21.7l-1 0.0l-1.4 0.6l-0.9 1.1l-0.2 1.1l0.5 1.2l1 0.5l2 0.2l0 247.3l-79.4 0.0l0 -273.7zM213.2 62.4l-0.9 2.1l0.3 2.1l1.4 1.4l0.9 0.3l1 -0.3l1 -1.4l0 -3.2l-1 -1.3l-1 -0.5l-0.9 0.1z" fill="#0000ff" stroke="#000" stroke-width="0.7" stroke-opacity="0.9"/>
<path d="M209.1 16.6l78.5 0.0l0 20.2l-2 0.3l-1.4 0.8l-1.7 2.1l-0.5 2.1l0.7 3.8l0.9 1.3l1 0.4l3 0.2l0 44.6l-1 0.0l-1 1.1l-0.4 3.0l0.4 2.3l1 1.0l1 0.0l0 25.7l-4 0.7l-1.2 1.2l0.4 1.0l1.8 2.1l1 0.6l2 0.3l0 66.3l-2 0.5l-1 1.6l0.3 1.1l0.7 0.6l2 0.2l0 88.6l-79.4 0.0l0 -63.0l0.9 0.0l1.2 -0.9l0.7 -4.2l-0.1 -3.2l-0.7 -2.2l-1.1 -0.6l-0.9 0.0l0 -147.7l1.9 0.3l4 2.2l1.7 -0.1l1.2 -0.6l1.3 -1.5l0.7 -3.2l-1.1 -3.2l-0.9 -1.2l-2 -1.2l-1.9 0.4l-3 2.9l-1 0.6l-0.9 0.0l0 -47.3zM256.9 28.3l0.2 1.5l0.9 0.6l1 -0.7l0 -1.6l-1 -0.5zM266.4 50.7l-0.8 1.0l-0.1 2.2l1.2 6.3l-1.2 5.4l0.4 1.5l1 0.8l1 -0.2l2.1 -5.3l0.4 -2.2l-1.1 -7.4l-1.5 -2.0zM226.6 107.1l-0.6 3.2l-0.8 1.1l-1.5 1.0l-0.3 1.1l2.1 2.1l1.2 4.2l0.7 1.2l1.2 0.4l2.6 -4.7l0 -2.1l-2.6 -7.2l-0.9 -1.3zM255.0 159.3l-1.3 1.1l-2.5 3.4l1 0.1l3.4 -2.5l1.2 -1.0l0.4 -1.1l-1.1 -0.3zM219.6 165.7l0.9 3.2l0.3 3.2l1 1.8l1 0.5l1.4 -1.2l0.4 -2.2l-3.5 -5.3l-1.3 -0.3zM234.4 265.8l-1.2 3.2l-0.1 1.1l0.5 1.1l1.9 -0.9l1.4 -2.3l-0.1 -1.1l-0.8 -1.1l-0.5 -0.3zM264.0 273.3l-0.1 1.6l1 1.5l1 -0.5l0.3 -2.6l-0.3 -0.6l-1 -0.3z" fill="#0055ff" stroke="#000" stroke-width="0.7" stroke-opacity="0.9"/>
<path d="M209.1 16.6l78.5 0.0l0 19.2l-3 0.6l-1.9 1.5l-1.6 2.1l-0.6 3.2l0.3 3.2l0.9 1.6l1.9 0.8l4 0.3l0 41.1l-1 0.0l-1.4 0.9l-0.6 1.3l-0.2 3.0l0.7 4.3l0.8 1.0l1.7 0.3l0 23.4l-3 0.3l-3.9 1.3l-0.8 0.3l-0.3 1.1l5 5.4l3 0.6l0 63.4l-2 0.2l-1.2 0.7l-0.7 1.0l-0.6 2.2l0 1.0l0.9 1.1l3.6 0.3l0 87.0l-76.5 0.0l0.3 -9.6l1.5 -5.3l-0.2 -1.0l-0.7 -1.1l-1.9 -0.9l-1.9 -0.2l0 -43.6l1.9 -0.4l1 -0.9l1 -3.0l0.2 -2.1l-0.2 -4.3l-0.7 -2.1l-1.3 -1.1l-1.9 -0.2l0 -143.3l1.9 0.2l4 1.8l1.9 -0.3l2.9 -2.1l1.2 -2.0l0.3 -2.2l-0.3 -2.1l-1.2 -2.6l-1.9 -2.1l-2 -1.2l-1.9 0.1l-3 2.2l-1.9 0.3l0 -44.6zM256.4 26.2l-1.3 1.0l-0.6 1.1l0 2.1l0.6 1.3l2 1.7l0.9 0.3l1 -0.1l1 -1.0l0.5 -1.1l0.3 -2.1l-0.3 -2.2l-0.5 -1.0l-1 -0.6zM265.7 47.5l-0.8 0.5l-0.4 1.6l0.8 9.6l-0.9 7.4l0.5 1.9l1 1.2l1.9 1.3l1 0.1l1 -0.5l0.4 -0.8l0.2 -3.2l1.7 -4.2l0.1 -2.2l-1.6 -7.4l-0.8 -1.9l-2 -2.4l-0.9 -0.8zM232.2 91.1l-0.6 0.8l-0.2 1.4l0.2 3.2l1 0.8l3.9 -0.1l1.6 -0.7l0.5 -1.1l-0.1 -1.1l-1 -1.6l-3 -1.6l-0.9 -0.3zM226.4 105.0l-1 4.2l-0.7 1.2l-2.2 2.0l-0.2 1.1l2.6 3.2l1.8 6.1l1.9 1.4l1 -0.3l0.5 -0.8l1.1 -3.2l1.7 -3.2l0.1 -1.1l-1.4 -5.3l-3 -5.3l-0.9 -0.7zM265.4 123.1l-0.7 1.1l0.2 2.5l1 1.3l1.9 0.4l1 -0.6l1 -1.5l0.3 -1.1l-0.3 -1.6l-1 -0.9l-1 -0.2zM267.1 133.7l0.2 2.2l1.8 3.2l1.7 0.9l1 0.0l1.6 -0.9l0.1 -1.1l-0.7 -1.1l-3 -3.2l-1 -0.8l-1 -0.1zM243.6 141.2l-1.2 1.3l-0.6 1.9l0.6 1.5l1 0.3l0.9 -0.3l1 -1.1l0.8 -2.5l-0.1 -1.1l-0.7 -0.8zM255.2 158.2l-1.8 1.1l-3.4 3.2l-0.9 1.1l0.2 1.0l1.9 1.2l1 0.1l1 -0.4l1.4 -1.9l3.7 -3.2l0.5 -1.1l0 -1.1l-0.8 -0.6zM218.5 164.6l-0.2 1.1l0.7 3.2l0.6 5.3l2.2 3.4l1 0.5l1 -0.2l0.9 -0.8l1.8 -2.9l0.7 -2.1l-0.1 -1.1l-0.6 -1.0l-4.8 -5.4l-1.9 -0.7zM278.5 174.2l-1.8 2.4l-1.3 2.9l-0.4 2.2l0.1 1.0l0.6 0.5l2.9 0.1l0.6 -0.6l0.7 -7.4l-0.3 -1.0zM261.4 177.4l-0.2 1.1l0.8 1.0l1 -0.1l0.6 -0.9l0.1 -1.1l-0.7 -0.4l-1 0.0zM250.2 208.3l-1.1 1.1l-0.1 1.0l0.9 1.1l1.3 0.0l0.9 -1.1l0.1 -1.0l-0.9 -1.1zM250.0 229.6l-1 1.1l0.2 1.4l1 0.6l1 -0.9l0.1 -1.1zM229.4 237.1l-0.6 2.1l0.3 1.1l1.1 1.0l1.4 0.1l0.9 -1.1l0.1 -1.1l-0.8 -2.1l-1.2 -1.1zM233.4 250.9l-0.7 1.1l0.6 1.0l1.2 0.5l0.6 -0.5l0.2 -1.0l-0.8 -1.0zM234.3 263.7l-0.7 0.8l-3.8 8.8l-0.1 1.1l0.9 1.9l1 -0.1l3.9 -3.4l2 -2.5l1 -2.3l0 -1.1l-1 -1.6l-2 -1.6zM263.6 271.2l-0.9 1.0l-0.3 1.1l0 4.2l0.5 1.1l1 0.9l2 0.4l1 -0.7l0.6 -1.7l0.2 -5.3l-0.6 -1.0l-1.2 -0.5z" fill="#00aaff" stroke="#000" stroke-width="0.7" stroke-opacity="0.9"/>
<path d="M209.1 16.6l26.4 0.0l0.1 3.2l0.6 2.1l0.7 1.1l1.6 0.5l2 -0.5l0.6 -1.1l0 -1.1l-1.3 -3.2l0 -1.0l47.8 0.0l0 18.3l-2 0.2l-1.6 0.6l-3.7 3.2l-0.9 2.2l-0.1 4.2l0.2 2.2l1.2 1.4l2 0.7l4.9 0.3l0 38.3l-2 0.2l-1 0.7l-0.9 2.0l-0.1 2.2l0.3 4.2l0.7 3.1l1 1.1l2 0.4l0 21.4l-2 0.1l-3.9 1.0l-4.9 0.3l-0.6 1.4l1.1 2.1l3.4 2.9l2.9 3.4l4 0.6l0 26.2l-3 0.1l-1 0.7l-0.3 1.3l0.3 1.3l1 1.3l3 0.6l0 29.1l-2 0.1l-1.4 0.6l-3.9 5.3l0.5 2.1l1.9 1.8l4.9 -0.6l0 85.1l-31.4 0.0l0.4 -3.2l3.5 -4.4l2 -0.9l3.9 0.4l1 -0.3l1.1 -1.2l0.7 -3.2l0.1 -5.3l-0.9 -2.1l-2 -0.6l-2.5 0.6l-1.3 1.1l-2.1 7.6l-3.5 3.0l-2.4 3.2l-1.2 2.1l-0.4 3.2l-40 0.0l0.2 -7.4l1.9 -6.4l0.1 -3.2l-0.7 -1.5l-2 -1.6l-2 -0.7l-1.9 -0.1l0 -39.9l1.9 -0.2l1.1 -0.8l1.2 -2.1l0.9 -4.2l-0.3 -5.4l-0.7 -2.1l-2.2 -1.4l-1.9 -0.2l0 -139.7l1.9 0.2l4 2.3l0.9 0.2l5.6 -4.1l0.9 -2.2l0.3 -2.1l-0.5 -3.2l-1.4 -3.2l-3.9 -3.7l-1.9 -0.8l-1 0.1l-3 1.8l-1.9 0.4l0 -42.5zM257.6 24.0l-2.5 0.7l-2.4 1.5l-0.6 1.0l-0.5 2.2l0.8 3.1l3.7 4.9l1 0.5l1.9 -0.7l1.5 -1.5l1 -2.1l0.3 -2.1l-0.2 -4.3l-0.6 -2.2l-1 -1.0zM245.1 34.7l-1.8 2.1l-0.4 1.1l0.6 1.0l2.4 0.0l1.5 -1.0l0.4 -1.1l-0.3 -2.1l-1.2 -0.7zM264.6 44.3l-1.6 1.0l-0.8 1.1l-0.2 1.1l1.6 4.2l0.7 5.3l-0.8 10.7l0.6 2.1l2.8 3.5l0.9 0.3l2 -0.1l1.2 -0.5l1 -1.0l0.3 -5.4l1.3 -4.2l-0.1 -2.2l-2.1 -8.5l-1.6 -3.6l-1.7 -2.8l-1.2 -1.0zM254.0 52.8l-1.3 1.1l-0.3 1.0l0.8 0.8l1.3 -0.8l0.3 -1.0zM225.2 78.4l-0.9 1.0l-0.3 1.1l0.7 4.2l1.2 3.2l3.1 3.2l0.5 2.2l0.7 7.4l0.4 0.4l1 -0.2l2.9 -1.6l3 -0.1l1.7 -0.6l0.9 -1.1l0.7 -2.1l-0.5 -3.2l-0.9 -1.1l-4.8 -2.1l-2.3 -2.1l-0.4 -2.2l0.6 -3.2l-0.4 -2.1l-0.9 -1.0l-1.6 -0.6l-1.9 -0.1zM267.2 78.4l-0.3 2.3l0.9 1.0l1 -0.2l1 -1.2l0 -2.0l-1 -0.9l-1 0.1zM243.7 96.5l-0.3 2.1l0.9 2.8l1 0.4l2 -0.6l0.6 -1.5l-0.6 -2.2l-0.8 -1.0l-1.2 -0.8l-1 0.2zM228.6 102.9l-1.9 0.4l-1 1.0l-1 4.9l-2.9 3.1l-0.2 1.2l0.4 1.1l2.1 2.1l0.5 1.1l0.6 4.2l0.8 2.2l1.7 1.6l1.9 0.4l1.5 -1.0l0.8 -4.2l2 -3.2l0.4 -2.2l-1.4 -6.4l-2.3 -3.1l-1 -2.3zM265.1 121.0l-2 1.0l-0.6 2.2l0.1 3.2l1.6 7.4l3.6 6.3l3 0.9l2.9 -0.2l1.2 -0.6l0.8 -1.1l0.2 -2.1l-0.4 -1.1l-3.2 -3.2l-0.8 -2.1l0 -2.1l1.1 -5.3l-0.2 -1.1l-1 -1.1l-1.6 -0.7l-2 -0.4zM244.9 139.1l-2.5 2.1l-1.3 2.1l-0.1 2.2l0.4 1.1l1 0.8l1 0.1l1.9 -0.9l1 -1.3l0.7 -2.0l0.2 -3.2l-0.9 -1.2zM280.6 145.5l-1.4 1.0l-0.9 2.2l0 1.0l1.3 1.8l2 1.1l1 -0.6l0.8 -1.2l0.3 -2.1l-1.1 -2.2zM255.9 157.2l-2.7 1.4l-4.8 3.9l-0.6 1.1l0.2 1.0l1.1 1.1l3.8 2.1l0.6 1.1l-0.1 2.1l0.7 1.5l0.7 -0.4l0.3 -1.1l-0.9 -3.2l0.4 -2.1l1.3 -2.1l3.5 -3.2l0.7 -2.2l-0.3 -1.0l-0.8 -0.8l-1 -0.1zM218.2 163.6l-0.6 1.0l-0.1 1.1l1 9.6l2.3 3.8l1 0.7l2 0.2l1.9 -1.4l2.9 -4.9l0.5 -1.6l-0.5 -2.9l-0.9 -1.0l-3 -1.5l-3.2 -3.1l-1.7 -0.5zM277.1 171.0l-0.7 1.1l-2.7 8.8l-2.4 2.9l-0.7 1.1l-0.1 1.0l1.3 1.8l2.2 1.4l0.6 1.1l-0.3 9.6l0.4 0.9l1 0.4l1.4 -0.2l0.7 -1.1l0.5 -7.5l-0.2 -3.2l-1.7 -2.1l0.2 -1.1l1 0.2l1 1.5l1 0.2l2 -0.8l0.8 -2.1l-1.6 -4.3l1.3 -5.3l-0.4 -3.2l-1.1 -1.5l-1 -0.2zM260.0 176.4l-0.3 2.1l1.3 3.3l2.9 3.6l1 0.5l1.2 -1.0l-1.5 -2.2l-0.1 -1.0l1.3 -3.2l0.1 -1.1l-0.4 -1.0l-2.5 -1.1l-2 0.4zM236.0 185.9l-0.2 1.1l1.7 1.3l1.9 0.6l2 -0.8l0 -1.1l-1 -1.2l-2 -0.5zM257.2 188.1l-3.1 2.7l-5.9 3.5l-2.9 3.1l-4.1 1.3l0.6 1.1l4.5 0.8l2.9 -0.5l2 -1.1l4.9 -5.8l3.4 -1.9l0.2 -2.2l-0.7 -1.6l-1 -0.1zM249.9 205.1l-1.7 1.0l-0.9 1.1l-0.5 1.1l-0.1 2.1l0.3 1.1l1.2 1.7l1 0.6l2 0.4l1.9 -0.6l1.5 -1.0l1 -2.2l0.3 -2.1l-0.8 -2.1l-1.9 -1.5l-1 -0.2zM258.9 221.1l-0.3 1.1l0.4 1.1l1 0.5l1 0.0l0.8 -0.6l0.2 -1.0l-1 -1.4l-1 -0.3zM248.3 228.5l-0.9 1.1l0 2.1l1.8 2.9l1 0.6l1 -0.1l1.5 -2.3l0.4 -3.2l-0.6 -1.1l-1.3 -0.6l-1 -0.1zM230.1 233.9l-2.3 3.2l-0.6 2.1l0 2.1l0.5 1.2l0.9 0.9l2 0.6l2 0.0l1 -0.8l0.9 -1.7l-0.1 -2.3l-1.8 -5.4l-1 -0.7zM230.0 247.7l-1.5 1.1l-0.3 1.1l0.1 1.0l5 4.3l2.2 0.5l1 -0.4l0.6 -1.2l0.2 -2.1l-0.6 -2.1l-1.2 -1.0l-2.9 -1.4zM252.7 248.8l-1.6 1.1l-0.8 1.0l-0.1 1.1l0.6 1.0l1.4 1.1l1 -0.1l0.9 -0.7l0.7 -2.4l-0.7 -2.5zM233.4 262.6l-2.1 5.4l-2.9 4.2l-0.3 1.1l0.2 2.1l1.3 3.3l1 2.0l1 0.8l1 -1.1l1.2 -2.9l2.7 -2.7l1 -1.7l2.3 -4.1l0.6 -2.1l-0.3 -1.1l-4.6 -3.7l-1 -0.3zM243.2 262.6l-0.1 1.1l0.7 1.1l1.5 0.1l1 -1.0l0 -1.3l-1 -0.8l-1 0.0z" fill="#00ffff" stroke="#000" stroke-width="0.7" stroke-opacity="0.9"/>
<path d="M209.1 16.6l24.1 0.0l0.2 3.2l0.7 2.1l1.5 2.1l1 0.6l1.9 0.3l2 -0.3l4.9 -2.6l1 0.1l1.2 0.9l0.7 1.2l0.5 2.0l-0.6 3.2l-8.3 7.4l-0.7 1.1l0 1.0l0.9 1.1l1.4 0.6l5.9 0.9l2.9 1.6l3.9 0.2l1.1 1.0l0.5 2.1l-0.5 2.1l-4.1 4.3l-0.9 2.1l0 1.1l0.7 1.0l1.3 0.8l1.9 0.0l1.2 -0.8l0.8 -1.1l1.2 -4.2l0.7 -1.3l2 -0.8l1 0.2l1 0.9l1 2.1l0.5 3.2l-1.1 12.8l0.5 2.1l1.5 3.2l-0.4 6.4l0.9 3.2l1 1.5l1 0.6l1.9 -0.6l2.7 -2.6l1.3 -4.9l2.2 -3.6l-0.1 -2.1l-0.7 -4.3l0.7 -6.4l-1.8 -6.4l-1 -6.4l-1.3 -4.3l-2 -1.8l-1.9 -0.7l-2 0.0l-3.9 0.9l-1 -0.9l0.2 -1.7l2.2 -4.3l0.4 -3.2l-0.7 -8.5l-2.2 -4.2l-0.3 -3.2l27.9 0.0l0 17.5l-3 0.4l-5.9 3.7l-0.7 1.8l-0.3 6.4l0.5 2.1l1.5 1.2l3 0.7l4.9 0.1l0 19.3l-6.1 0.0l-2.2 1.1l-0.5 1.1l0.4 2.1l3.1 3.2l0.8 2.1l0 1.1l-2.9 1.0l-0.8 1.1l0.3 1.3l1 1.1l1.5 0.8l0.5 1.1l0 5.3l1.2 8.5l0.7 1.3l1 0.8l2 0.3l0 19.5l-2 0.1l-3.9 1.1l-2 -0.1l-5.9 -2.7l-9.7 -2.2l-1.5 -2.1l-0.4 -6.4l-1.1 -1.7l-1 1.2l-0.9 4.8l0.7 13.8l-0.7 2.1l-1.8 2.2l-0.4 1.0l0.4 2.2l2.7 3.9l3 2.0l4.1 4.7l2.2 3.2l3.5 2.0l4.8 0.7l1.9 1.6l0.7 1.0l0.6 2.2l-0.5 3.2l-0.7 1.5l-1 1.0l-3.9 1.5l-1.3 1.3l-0.3 2.1l1 5.4l-0.1 2.1l-1.1 4.2l-1.1 1.6l-2 1.2l-1 0.1l-1 -0.7l-0.3 -1.1l0.5 -3.2l-0.2 -1.0l-0.8 -1.1l-1.1 -0.6l-3.9 -0.5l-3 0.8l-0.7 1.4l0.7 6.3l-0.4 1.1l-3.5 4.3l-6.9 4.5l-3.9 3.6l-2.9 0.8l-3 -0.5l-0.9 0.7l-0.1 0.5l1 2.1l5.2 3.2l0.6 1.0l-0.6 4.3l0.3 3.2l0.4 1.1l5.9 4.8l3 0.3l1.9 0.8l0.9 1.5l1 4.3l1.9 1.1l2.3 0.0l1.8 -0.9l0.6 -2.3l-0.6 -2.2l-2.6 -3.2l-0.8 -2.1l-0.2 -8.5l-0.5 -1.1l-2.8 -2.2l-1 -2.0l0.1 -1.1l1 -2.1l1.8 -2.2l5.5 -2.1l0.7 -1.1l-0.3 -2.1l0.4 -1.1l2.6 -0.8l1.9 -0.1l2.9 2.0l0.8 2.1l-0.2 9.6l1.4 1.1l3.9 0.4l1.9 1.7l2.1 4.2l1 1.2l1.9 1.2l3 0.4l0 78.2l-28.6 0.0l0.3 -2.1l1.8 -2.3l2 -0.9l3.9 -0.4l0.9 -0.8l1 -1.6l0.8 -3.6l0.1 -7.4l-0.9 -2.2l-1.9 -0.5l-3 0.4l-2.2 1.2l-0.7 1.1l-1.1 4.2l-0.9 1.8l-4 3.5l-3.2 4.3l-1 2.1l-0.4 3.2l-13.9 0.0l-0.4 -6.4l0.4 -1.3l2.2 -2.9l0.6 -6.4l3.1 -4.9l1 -0.7l2.9 -0.8l1 -0.9l0.5 -1.2l0.1 -2.2l-0.6 -1.7l-2 -0.9l-2.9 -0.2l-1 0.3l-1 2.1l-1 0.6l-1.9 -1.2l-0.5 -1.1l0.3 -1.1l2.1 -0.5l0.5 -0.5l0 -1.1l-1 -3.2l-0.2 -4.2l-0.5 -1.1l-2.3 -2.1l-0.6 -1.1l1.3 -5.3l-1.6 -4.3l-0.1 -4.3l-0.4 -1.1l-0.9 -0.8l-2 0.5l-2 1.8l-3.6 6.0l-1.5 4.3l0 5.3l-0.8 4.3l0.3 1.0l0.7 0.6l4.9 1.0l4.5 2.7l1.2 1.1l-0.2 1.0l-1.5 0.9l-1 1.4l-2 5.8l-3.5 3.7l-0.5 1.0l0.1 2.2l2.1 5.3l1 4.2l1.9 4.3l0.2 2.1l-18 0.0l0.1 -6.7l2.1 -7.1l0.1 -5.3l-0.4 -1.1l-1.8 -1.7l-3 -0.9l-2.9 -0.2l0 -37.0l1.9 -0.1l2 -1.4l1.8 -4.5l0.4 -3.2l-0.3 -5.3l-0.9 -2.2l-2 -1.7l-2.9 -0.5l0 -3.0l1.9 -0.3l1 -0.8l1.1 -2.2l0.4 -2.1l-0.4 -1.1l-1.1 -1.1l-2.9 -0.7l0 -94.5l3.3 -0.6l1.2 -1.1l0.3 -1.0l-0.9 -1.0l-3.9 0.0l0 -25.9l1.7 0.2l1.2 0.9l2 2.5l2.1 1.9l2.2 3.2l0.6 0.4l3.9 0.5l2.5 3.4l3.2 3.2l0.6 1.1l0.7 4.2l-0.5 3.2l-2.6 2.2l-0.6 1.0l-1 5.3l-2.3 2.2l-0.7 1.0l-0.2 1.1l0.4 1.1l2.6 3.2l0.7 6.4l0.8 2.1l1 1.1l1.3 0.4l1.9 0.0l2 -0.6l1 -0.9l0.4 -5.3l2.2 -3.2l0.4 -1.1l-0.7 -4.3l0.7 -4.2l-0.6 -1.1l-2.4 -1.6l-0.5 -1.6l0.8 -1.0l1.6 -1.3l2 -0.2l1.4 0.4l2.5 2.7l3 1.7l0.9 1.0l1.2 3.1l2.6 3.2l0.3 2.1l-0.4 1.1l-2.4 2.1l-0.6 1.1l0.1 1.1l0.7 1.0l1.5 0.4l2.2 -0.4l5.8 -5.3l0.4 -2.1l-2.5 -4.3l-4.3 -4.3l-0.3 -1.0l1.3 -3.2l0.2 -2.1l-2.8 -4.6l-4.1 -2.9l-0.8 -4.5l-1 -1.0l-1 0.1l-2 1.2l-0.9 0.1l-2 -1.2l-0.2 -2.2l1.1 -3.2l0 -1.0l-0.9 -2.2l-1 -1.2l-1.9 -1.2l-5.9 -0.3l-2 -1.0l-0.6 -1.6l-1.2 -7.4l-2.1 -5.5l-4.9 -4.7l-2.9 -1.5l-3 -3.0l-1.9 -0.4l0 -33.9zM272.1 31.5l0 1.0l0.7 1.1l0.6 -1.1l-0.6 -2.1zM244.9 138.0l-2.5 2.2l-1.9 3.1l-0.3 2.2l0.2 1.3l1 1.4l1 0.4l1.9 -0.2l2 -1.4l1 -1.5l0.8 -2.2l0.3 -2.1l-0.3 -2.1l-0.8 -1.1l-1 -0.4zM261.7 149.7l-0.7 2.2l1 1.0l1.4 -1.0l0.1 -1.1l-0.5 -1.2l-1 -0.2zM241.4 155.0l-1 0.3l-0.7 0.8l0 1.1l1.7 2.9l1 0.8l1 0.2l1.1 -0.7l0.3 -3.2l-0.9 -1.1zM258.2 155.0l-5.9 3.2l-2.2 2.2l-3.6 2.1l0.3 2.1l1 1.1l3.4 2.1l0.7 1.1l0.5 4.3l0.8 1.1l0.9 0.4l2 -0.3l0.7 -1.2l-1.2 -6.4l0.5 -2.2l3.9 -3.8l1 -1.5l0.1 -2.1l-0.6 -2.2l-0.5 -0.5zM218.5 162.5l-1.3 1.1l-0.4 1.0l0.5 5.4l-0.3 4.2l0.4 2.2l1.1 2.1l2.1 2.1l2.2 0.7l1.9 -0.3l2 -1.5l3.1 -5.3l1.3 -5.3l1.3 -3.2l-0.3 -2.1l-0.5 -0.5l-2 0.4l-1.9 2.4l-1 0.4l-2 -0.7l-2.9 -2.6l-2 -0.6zM238.4 183.8l-2.9 0.6l-1 0.5l-0.8 1.0l-0.1 1.1l0.9 1.8l3 1.9l3.9 -0.8l1.1 -0.8l0.4 -1.0l-0.3 -2.2l-0.9 -1.0l-1.3 -0.8zM236.1 216.8l-1.6 0.9l-0.5 1.3l0.4 1.0l1.1 0.5l2 -0.4l0.8 -2.2l-0.8 -1.2zM247.9 227.5l-1.4 1.0l-0.5 1.1l0.3 2.1l2.9 4.6l3 1.9l2.1 -6.5l0.2 -3.2l-0.4 -1.0l-1.9 -0.9l-2 0.1zM253.2 241.3l0.1 3.2l-0.8 2.2l-1.3 1.3l-3.4 1.9l-1.1 1.0l0 1.1l0.7 1.0l2.8 2.9l1 0.3l2 -0.3l1.9 -1.5l1.1 -2.4l0.6 -3.2l-0.3 -3.2l-2.4 -4.5zM280.3 248.8l-1.7 1.0l-0.5 1.1l0.4 2.1l1.1 0.8l1 0.2l2 -0.4l1.3 -1.6l-0.4 -1.9l-1.6 -1.3zM283.5 81.2l4 -0.3l0 5.1l-3.1 -0.2l-0.9 -0.5l-0.3 -1.6zM284.5 137.7l3 -0.4l0 7.9l-2 -0.3l-2.5 -2.6l-0.3 -1.1l0.4 -2.1zM286.5 152.8l1 0.0l0 5.7l-2 -0.3l-1.2 -1.0l-0.3 -1.1l0.7 -2.1zM285.5 170.2l2 -0.2l0 25.1l-4 0.6l-2.9 2.4l-0.5 -0.4l-0.2 -1.1l0.2 -5.3l0.5 -1.5l2 -1.9l0.9 -2.0l0.1 -2.1l-0.9 -3.2l1.2 -4.2l0.3 -4.3l0.4 -1.1z" fill="#55ffaa" stroke="#000" stroke-width="0.7" stroke-opacity="0.9"/>
<path d="M209.1 16.6l22.1 0.0l0.6 5.3l2.1 3.2l1.7 0.8l2 0.2l7.8 -1.0l1 1.0l0.2 1.1l-1 2.2l-2.2 2.1l-1.9 1.6l-2 0.7l-1.9 -0.5l-3 -2.5l-0.9 -0.3l-1 0.5l-1.9 2.6l-1.1 0.6l-12.7 -0.3l-2 0.3l-1.7 1.5l-1 2.2l0.3 6.4l0.8 2.1l3.6 0.4l3.9 -0.9l5.9 -0.3l3.9 -3.0l4.9 -1.3l2 -0.1l7.8 1.4l6.6 3.8l0.7 1.1l-0.6 2.1l-3.3 4.3l-0.8 2.1l0.1 1.0l0.8 1.1l3.4 1.4l1.9 0.0l2 -1.1l0.9 -1.4l1 -3.4l1 -1.7l1 -0.5l1 0.1l1 0.9l0.6 2.5l0.1 2.1l-1.5 10.7l-1.2 3.0l-1 1.1l-1.9 1.2l-0.3 1.1l0.3 1.3l0.9 0.9l1 0.2l1 -3.5l1 0.0l1 1.1l0 1.2l-1 1.2l-1.4 0.8l-0.1 2.1l0.5 1.8l2.1 1.4l1.3 3.2l0.3 2.1l-0.4 6.4l-0.8 2.2l-2.5 3.3l-4 2.0l-1 1.1l-0.9 3.4l-0.9 0.0l-1.6 -1.3l0 -1.1l0.8 -3.2l-1 -2.1l-3.2 -4.3l-3.5 -3.2l-1.3 -5.5l-3.5 -3.0l-0.8 -3.2l-1.8 -3.2l-0.7 -2.1l0.2 -1.1l1.8 -2.1l-0.2 -1.7l-0.9 -0.7l-1 0.3l-1.2 3.2l-1.7 0.8l-3 0.2l-2 -0.9l-0.9 -2.3l-3 -4.5l-0.8 -2.9l0.4 -4.3l-1.1 -2.1l-4.4 -4.0l-0.9 -0.5l-3 0.0l-0.9 -0.6l-2 -3.2l-1 -0.4l-2.9 -0.1l0 -30.6zM256.9 82.6l-0.8 1.7l0 1.8l1 1.6l1.4 0.2l1.1 -1.0l-0.1 -4.3l-0.5 -0.9l-1 0.1zM263.9 16.6l23.6 0.0l0 16.6l-3 0.4l-4.9 2.2l-2 -0.3l-1.6 -1.9l-2.3 -6.2l-0.9 -1.5l-1 -0.5l-1.1 0.8l-0.9 6.3l-0.8 2.2l-2.1 3.0l-1 0.5l-1 -0.1l-0.5 -1.3l-1.1 -9.6l0.2 -10.6zM275.7 50.0l4.9 1.1l6.9 0.1l0 16.9l-8.9 0.3l-1 -0.1l-0.9 -0.9l-0.4 -1.8l0 -4.3l-2.1 -7.4l0.5 -3.1zM209.1 85.3l2 0.4l1 0.7l0.5 1.5l0.1 2.2l-0.6 1.8l-1 1.2l-1 0.5l-1.9 0.2l0 -8.5zM273.7 85.5l2 -0.4l1 0.3l2.9 2.4l1 1.2l1.3 4.3l1.6 8.8l1 1.5l1 0.4l2 0.2l0 17.4l-6.9 1.4l-2 -0.8l-2.9 -2.4l-8.8 -1.4l-1.5 -0.6l-0.9 -1.1l-1.3 -7.5l-2.1 -4.2l0 -2.1l0.9 -1.0l3.9 -0.8l1 -0.6l0.5 -0.8l0.8 -4.3l1.7 -3.2l1.2 -4.3l0.7 -1.0zM219.8 88.8l2 0.7l4.7 3.8l1 2.1l0.4 2.1l-0.3 2.2l-0.6 1.0l-2.3 2.2l-0.9 5.8l-2.8 2.7l-0.5 1.0l0.1 2.2l2.6 3.2l0.4 2.1l-0.5 6.4l-2.8 4.2l-0.3 1.1l0.2 2.1l0.6 1.7l1 0.8l1 0.0l4.2 -1.4l0.9 -1.1l0.2 -2.1l0.5 -1.3l1.4 -0.8l3.9 -1.1l1.1 -1.0l0.1 -1.1l-1.2 -4.3l0.4 -1.0l2.5 -3.2l0.4 -1.1l-0.1 -4.3l2.9 -4.2l1.4 -0.3l1 0.9l0.1 1.5l-2.1 2.4l-0.4 2.9l2.3 4.3l1.2 3.2l1.8 0.7l3.9 0.0l1.9 -0.7l3 -2.4l1.5 0.3l0.5 2.1l-1.4 9.6l-0.1 3.2l2.3 7.4l1.8 3.2l0.6 2.2l-0.3 3.2l-1.2 2.1l-2.7 2.2l-3.9 1.4l-2 1.9l-1 0.3l-1 -0.5l0.2 -1.1l2.2 -2.1l-0.4 -1.5l-1 -0.5l-2.9 0.3l-3.9 -1.5l-1 0.1l-2 1.2l-2.3 4.0l2.3 1.2l3 3.3l2.9 1.1l3 2.5l2.9 1.7l1 2.0l0.3 4.2l1.7 1.8l2.9 0.8l0.6 0.6l1 2.1l0.1 2.2l-1.5 3.2l-2.2 2.8l-6.8 4.1l-3 3.1l-1.9 1.0l-2.3 -0.4l-1.1 -1.0l-0.2 -1.1l0.4 -1.1l3.9 -2.1l0.8 -1.1l0.3 -2.1l-0.8 -2.2l-2 -1.6l-3 -0.5l-3.9 0.9l-1.8 1.3l-0.5 1.0l0.1 2.2l2.4 4.2l0.7 6.4l1.6 2.2l3.4 2.4l0.6 0.7l0.2 1.1l-0.2 5.3l-0.8 2.2l-1.8 1.5l-2.9 1.0l-1.9 1.2l-1.2 1.6l0 2.1l0.8 1.1l1.3 0.6l3 0.0l0.9 -0.7l2 -4.0l1 -0.9l2.9 -0.3l2 1.0l2.9 2.9l4.2 1.4l0.8 1.1l0.2 1.0l-0.2 1.1l-1 0.6l-5 1.3l-2.8 1.3l-1 1.0l0.4 2.2l0.9 2.1l5.3 7.5l1 3.2l-0.3 2.1l-1.5 1.7l-4.6 1.5l-1.3 1.1l-0.4 1.0l0.3 2.1l2.7 3.2l0.3 1.1l-0.9 0.7l-1 0.1l-1.9 -0.7l-2.4 -3.3l-0.4 -2.1l0 -3.2l-0.4 -1.1l-2.4 -2.1l-0.3 -1.1l1.3 -4.2l-1.9 -4.3l-0.3 -5.3l-1.1 -2.0l-1 -0.8l-1.9 -0.3l-2 1.1l-1.7 2.0l-3.2 5.2l-1.9 1.8l-4.4 0.4l-1.2 1.1l-0.5 2.1l0 3.2l2.5 5.4l0.5 5.3l1.1 0.5l6.8 0.5l2.2 1.1l1 1.1l0.1 1.0l-0.8 4.3l-1.2 3.2l-1.3 1.3l-2.9 1.2l-1 0.0l-1.9 -0.8l-1.8 -1.7l-0.6 -2.1l0 -7.5l-0.6 -1.4l-2.9 -0.2l-2 1.0l-1 1.7l-0.9 5.6l-0.8 0.8l-1.2 0.4l-2.9 0.2l0 -34.3l1.9 0.0l2 -0.8l1.1 -1.8l1.7 -4.2l0.5 -3.2l0 -5.3l-0.5 -2.2l-1.9 -3.2l-0.1 -1.0l3.1 -7.5l-1.4 -2.1l-3.5 -3.1l-1 -0.6l-1.9 -0.3l0 -87.8l2.9 -0.5l2.6 -1.5l1.1 -1.0l0.4 -1.1l0.3 -4.2l1.1 -4.3l0.5 -4.3l0.9 -1.3zM236.3 131.6l-0.8 1.1l0.3 1.0l0.7 0.5l1 -0.1l0.4 -0.4l0.2 -1.0l-0.6 -1.0zM245.0 136.9l-1.6 1.2l-2 2.3l-1.1 1.9l-0.7 2.1l-0.2 2.1l0.7 2.2l1.3 1.3l1 0.2l2.9 -1.0l2 -1.6l1.2 -2.1l0.9 -3.2l0.1 -2.2l-0.5 -2.1l-1.7 -1.3zM234.3 159.3l-1.7 1.7l-3.1 1.5l-2.8 2.5l-1 0.0l-2.9 -2.2l-2 -0.9l-2 -0.2l-1.9 0.8l-0.8 2.1l0.3 5.4l-0.7 6.4l0.8 2.1l2.2 2.1l2.1 1.2l3 0.5l2.4 -0.6l1.5 -1.2l3.3 -6.3l2.3 -6.4l0.6 -5.3l1.9 -3.2l-0.3 -0.6zM255.1 108.1l1 -0.5l1.2 0.6l0.5 1.0l-0.7 1.5l-1.1 -0.4zM266.9 152.7l1.9 -0.4l4 1.1l3.9 0.2l1.9 1.4l0.7 2.2l-0.2 2.1l-1.4 2.1l-4 1.9l-1.3 1.3l-0.5 2.2l-0.1 5.3l-1 2.1l-5.9 -1.1l-4.9 -0.3l-1 -0.5l-2.3 -5.5l0.5 -2.2l4.3 -4.2l1.5 -4.5zM286.5 182.6l1 0.0l0 11.4l-4 0.0l-1.1 -0.6l-0.4 -2.1l2.3 -3.2l1.2 -4.9zM268.8 192.2l1 0.5l1.2 2.8l0.2 2.2l-0.8 4.2l0.4 1.9l1 0.6l3.9 0.0l1.9 0.6l1 1.2l1.5 4.2l0.7 1.1l3.7 2.4l3 0.5l0 33.1l-2 -0.3l-2.9 -1.0l-2 0.3l-4.1 2.3l-1 1.1l-0.5 2.1l1.6 3.2l1 0.7l5 -0.2l4.9 0.3l0 34.3l-19.6 0.0l0.1 -2.1l2.2 -7.5l0.4 -9.5l-0.1 -2.2l-0.6 -1.0l-2.1 -0.7l-4.8 1.1l-2 1.2l-1 1.6l-1 3.6l-0.9 1.7l-5.1 4.2l-4.2 5.4l-0.6 4.2l-8.5 0.0l-0.2 -5.3l1.3 -4.3l0.2 -5.3l0.4 -1.6l2.9 -3.6l3.9 -2.7l0.8 -1.7l0.7 -6.4l4.4 -2.5l2 -1.6l3.5 -7.6l-0.5 -2.1l-3 -4.3l-1.2 -4.2l0 -2.2l1.5 -6.4l0.6 -1.0l1 -0.5l5.9 -1.2l0.8 -1.5l0.1 -3.2l-0.9 -5.3l0.2 -1.1l3.1 -4.3l-0.1 -1.0l-3.2 -1.7l-0.9 -3.7l-1 -1.5l-3 -2.7l-0.1 -1.1l0.3 -1.0l1 -1.1zM269.3 227.5l-1.4 1.0l0.3 1.1l9.4 9.4l1 0.3l2 -0.4l2 -1.7l0.7 -3.3l-0.7 -2.0l-1 -1.0l-1 -0.6l-3.9 -0.6l-2 -2.1l-1 -0.6zM218.8 272.9l2 -0.4l2 0.7l1.9 1.4l2 2.6l1 2.5l0.4 2.1l0.3 8.5l-7.7 0.0l-0.2 -2.1l-0.7 -1.8l-1 -0.6l-1.9 -0.3l-0.5 -0.5l-0.5 -2.1l1.4 -4.3l0.6 -3.8z" fill="#aaff55" stroke="#000" stroke-width="0.7" stroke-opacity="0.9"/>
<path d="M209.1 16.6l19.4 0.0l0 1.0l-0.4 2.2l-1.3 1.4l-4.9 1.7l-3 2.0l-3.9 0.7l-0.9 0.7l-1.4 2.0l-0.3 3.2l-0.5 1.0l-1.8 1.7l-1.9 0.3l0 -17.9zM267.9 16.6l3.6 0.0l0 1.0l-0.5 2.2l-2.3 2.1l-0.4 1.1l0.5 7.4l-0.7 2.1l-1.1 1.1l-1 -0.2l-1 -1.7l-0.7 -3.4l0 -2.1l0.7 -2.9l1.7 -2.5l0.3 -4.2zM275.7 16.6l11.8 0.0l0 15.6l-2 0.1l-4.9 1.9l-1 0.1l-1.5 -0.7l-1 -1.1l-1 -2.1l-0.8 -3.2zM241.4 27.2l1 0.2l1 0.9l-0.5 1.1l-1.5 1.5l-2 0.4l-1.7 -0.9l-0.9 -1.0l0 -1.1l0.7 -0.5zM236.5 43.0l2.9 -0.1l5.9 1.1l4.2 3.5l0.6 1.0l-0.8 2.2l-3.6 4.2l-2.3 3.7l-5 2.0l-2.9 2.3l-1.9 0.3l-1.3 -0.8l-7.4 -8.5l-2.6 -2.2l-1.2 -2.1l0.5 -1.1l1.2 -0.4l5.8 -0.3l4.5 -3.5zM276.7 52.7l1.9 -0.5l8.9 -0.4l0 14.9l-6.4 -0.1l-2.2 -1.0l-0.5 -4.3l-2.4 -5.3l0 -2.1zM260.0 53.2l1 0.1l0.3 0.6l0.5 2.1l-1.5 5.3l-0.1 4.3l-1.2 1.8l-3.8 3.5l-0.7 2.1l0.8 6.4l-0.9 4.3l0.2 4.2l0.5 1.3l1 0.8l2.9 1.3l1.2 2.0l-0.2 1.6l-0.8 1.6l-1.2 1.4l-1.9 0.9l-1 0.0l-2.9 -2.2l-3 -3.6l-2.9 -2.4l-0.7 -1.6l-0.6 -4.3l-2.9 -3.2l-2.8 -6.3l1.7 -5.4l-0.3 -4.2l3.6 -4.9l2 -0.5l5.9 0.9l3.9 -0.4l1.8 -1.5l1.1 -4.5zM274.7 88.9l2 0.4l1.9 1.2l2 2.1l1.1 2.8l1.1 8.5l0.7 1.8l4 0.6l0 14.0l-2 0.3l-3 1.4l-1.9 0.2l-1 -0.5l-2.3 -2.9l-1.6 -0.9l-5.9 -0.2l-2.9 -0.7l-1 -0.9l-0.7 -1.5l-1.8 -9.6l0.8 -1.1l5.1 -1.0l1.4 -1.1l0.4 -5.3l1.4 -5.4l1.2 -1.8zM221.8 93.8l2 -0.1l1.4 0.6l0.9 1.1l0.8 2.1l-0.5 2.2l-2.2 2.1l-0.4 1.1l-0.4 5.3l-0.6 1.1l-2.6 2.1l-0.4 1.0l0.1 2.2l0.5 1.0l2 2.2l0.4 1.0l-0.1 2.2l-0.9 3.2l-1 1.7l-1 0.8l-1.9 0.5l-1.1 -0.9l-1.9 -5.7l-0.9 -0.6l-1 0.3l-0.7 1.7l0.7 2.6l2.6 3.8l0.4 1.1l0.4 8.5l-0.2 4.3l0.7 1.8l1 0.5l0.9 -0.4l5.2 -5.1l1.7 -1.2l3.9 -1.0l3 -1.4l3.9 0.5l1.9 -0.4l1 -0.8l0.4 -1.1l-0.5 -4.2l0.3 -1.1l1.1 -1.0l2.7 -1.5l3.9 -0.8l3.9 0.4l0.8 0.8l0.4 1.1l0.1 4.2l-0.3 2.1l-1 2.1l-3.9 -0.3l-2 0.3l-1.9 1.2l-2 2.2l-1.8 3.1l-0.9 3.2l-0.2 2.1l0.5 3.2l-0.6 1.1l-5 5.3l-2.2 3.2l-4.5 3.4l-1 0.1l-2.9 -1.9l-2 -0.7l-2.9 -0.4l-1.5 0.5l-0.9 2.2l0.1 5.3l-0.7 3.5l-0.9 1.8l-1 0.6l-1 0.0l-2 -0.7l-1.9 -0.2l0 -20.1l2.9 0.3l1 0.6l2 2.7l0.9 -0.1l1.5 -2.3l-0.5 -1.2l-2.9 -1.3l-2 -3.1l-1 -0.4l-1.9 -0.2l0 -33.6l2.9 0.0l1.4 -0.6l0.6 -1.1l-0.4 -3.2l0.2 -1.1l3.1 -2.8l1.8 -6.7l2 -2.2l1.1 -2.8zM238.5 119.7l1 0.7l0.3 1.6l-1.3 1.4l-1.9 -0.2l-0.6 -1.2l0.5 -1.0zM252.2 140.3l1 0.5l0.9 1.2l3.8 7.7l-0.1 2.2l-1.2 2.1l-1.5 1.4l-1.9 0.8l-1.1 -0.1l-0.9 -0.9l-1 -2.0l-1 -1.0l-3.5 -0.3l0.3 -1.1l1.3 -1.1l1.5 -2.1l2.4 -6.2zM268.8 154.8l7.9 0.3l1 1.0l0.4 2.1l-0.5 1.3l-0.9 1.2l-4.8 1.8l-1 1.1l-0.5 6.4l-0.6 1.1l-1 0.6l-1.9 0.1l-2.4 -0.8l-0.6 -1.0l0.5 -3.2l1.9 -2.2l-0.4 -0.8l-1 0.4l-1.3 2.6l-2.6 1.0l-2 0.0l-0.8 -1.0l-0.2 -1.1l1.4 -2.1l2.8 -2.2l2.1 -4.2zM237.5 162.4l2.9 1.8l3.9 1.2l5.6 3.5l0.4 1.1l-0.2 4.2l0.7 2.2l1.4 1.2l3.1 0.9l0.8 0.7l0.4 1.4l-0.8 3.2l-2.2 3.2l-2.3 1.4l-4.9 2.0l-0.7 -0.2l-0.4 -4.3l-0.9 -2.0l-1.9 -1.7l-2 -0.8l-2 0.1l-5.8 1.7l-1 0.6l-0.9 2.1l0.2 3.2l1.2 4.3l0.2 4.3l2.2 3.5l3.9 3.8l0.8 4.4l-0.8 1.9l-0.9 0.6l-1.4 -0.4l-1.6 -2.1l-0.9 -0.7l-1 0.0l-0.7 0.7l-0.3 1.0l0.3 3.2l-1 4.3l0.2 3.2l1.5 1.8l1 0.3l1.9 0.2l2.9 -0.4l1 -0.8l2 -4.2l2 -0.7l1.9 0.8l4.6 4.1l0.7 1.0l-1 1.1l-3.3 1.4l-4.9 -0.1l-0.6 0.8l0 1.1l9 12.8l1 2.1l0.2 2.1l-0.8 1.5l-2 1.1l-1.9 0.1l-2 -0.6l-1 -1.0l-2 -3.2l-0.6 -4.3l-1.6 -3.2l-0.6 -4.2l-1 -2.2l-3 -2.7l-1.9 -0.4l-2 0.5l-2.1 1.6l-0.8 1.3l-1.4 4.0l-1.6 1.8l-1.9 0.8l-6.2 0.6l-0.5 1.1l-0.1 1.0l0.3 7.5l1 4.3l-0.2 2.1l-3.8 4.2l-2.3 6.4l-1 0.6l-1.9 0.2l0 -31.4l3.9 -0.3l1 -0.5l0.8 -1.6l2.5 -6.4l0.9 -5.3l-0.3 -4.3l-1.3 -5.3l1 -2.1l3 -2.2l0.4 -1.0l-0.2 -1.1l-1.5 -2.1l-3.4 -2.7l-1.3 -1.6l-0.5 -2.1l1.6 -2.1l0.3 -1.1l-0.8 -1.1l-1.3 0.0l-1.9 2.6l-2.9 0.4l0 -12.9l4.9 0.0l8.8 3.9l2.9 0.2l3 -0.7l1.1 -0.9l3 -6.4l1.4 -4.3l1.7 -3.2l0.6 -4.0l1 -1.1zM241.4 192.3l2 -0.5l0.9 0.5l-0.9 2.0l-1 0.5l-1.5 -0.3l-0.4 -1.1zM265.9 195.4l1.9 -0.3l1 0.4l1 2.2l-1 3.9l-1 1.7l-0.9 0.6l-1 0.0l-1 -0.6l-3.4 -3.5l-0.4 -1.1l0.3 -1.0l1.2 -1.1zM273.7 206.0l2 -0.2l1 0.3l0.9 1.1l0.8 4.3l0.6 1.1l2.7 2.1l0.8 1.1l-0.1 1.0l-3.2 2.2l-2.5 3.5l-2 1.6l-3.9 1.4l-3 0.1l-0.9 -0.6l-0.7 -1.8l0.1 -7.4l1.2 -2.2l3.3 -2.8l0.8 -3.6zM285.5 221.9l2 -0.2l0 8.7l-2 -0.4l-1 -0.6l-1.5 -1.9l-0.3 -1.1l0.2 -2.1l0.6 -1.1zM259.0 228.3l3 -0.5l1.9 0.5l2.7 3.4l1 2.2l-1.1 3.2l-1.6 2.5l-2.9 2.5l-2 0.7l-1 -0.2l-1.4 -1.3l-0.9 -3.2l0.4 -6.5l0.6 -2.0zM272.8 239.0l0.9 0.3l5.1 4.2l-0.1 1.0l-1 1.1l-2 1.1l-2 0.3l-0.9 -0.2l-1 -1.0l-0.8 -2.3l0 -2.2l0.8 -1.8zM261.0 251.9l5.9 2.8l1.9 2.9l1 0.7l1 0.0l2 -1.7l0.9 -0.1l3 1.9l4.9 -0.9l1 0.3l2.9 1.9l2 0.2l0 30.4l-17.7 0.0l1.3 -9.6l0.7 -12.7l-0.2 -1.1l-0.8 -0.9l-1 -0.3l-2.9 0.3l-5.9 2.3l-1.6 1.8l-2 5.3l-4.7 3.2l-3.5 2.9l-1.9 0.4l-3 -1.2l-0.6 -2.1l0.4 -1.1l2.3 -1.0l1.2 -1.1l0.6 -4.2l1.9 -4.3l0.4 -4.3l0.7 -1.8l1.5 -1.4l3.7 -2.1l1 -1.1l1.8 -3.2l0.8 -0.8zM223.8 258.4l0.9 -0.7l2 -0.3l1.9 0.7l1.4 1.3l0.3 2.2l-0.5 3.2l-1.2 1.7l-0.9 0.6l-2 0.0l-1.9 -1.6l-0.7 -3.9l0.2 -2.2zM223.8 278.6l0.9 -0.6l1 0.5l1 2.0l0 2.7l-1 1.8l-1 0.1l-0.9 -1.4l-0.4 -3.0z" fill="#ffff00" stroke="#000" stroke-width="0.7" stroke-opacity="0.9"/>
<path d="M209.1 16.6l3.2 0.0l0.4 5.3l-0.2 1.1l-1.4 1.8l-1 0.7l-1.9 0.3l0 -9.2zM216.9 16.6l7.8 0.0l0 1.0l-0.5 1.1l-1.1 1.1l-4.3 1.5l-1.3 -0.5l-0.6 -1.0l-0.3 -2.2zM279.6 16.6l7.9 0.0l0 14.0l-2 0.1l-4.9 1.9l-1.1 -0.1l-1.5 -1.0l-1.2 -3.2l0.2 -2.1l1.5 -5.4l0.4 -4.2zM265.9 26.7l0.7 0.5l0.3 1.1l0 0.7l-1 0.2zM238.5 44.2l4 0.3l2.3 0.8l2 2.2l0.5 1.0l0 1.1l-6.6 7.4l-2.2 1.2l-3.9 1.4l-0.9 -0.4l-4.3 -4.3l-1.1 -2.1l0.3 -1.1l3.1 -1.7l2.9 -4.0l2 -1.3zM282.6 52.8l4.9 -0.3l0 12.1l-2.4 -0.1l-1.6 -0.6l-1.6 -3.7l-3.3 -3.2l-0.4 -2.1l0.9 -1.0zM250.2 63.4l3.9 0.0l1.3 1.1l0 1.1l-1.3 2.1l-1.9 1.9l-0.5 1.3l0 8.5l0.7 5.3l-0.2 2.5l-1 1.6l-2 0.6l-1 -0.2l-0.8 -1.3l-0.1 -4.2l-0.7 -1.1l-3.2 -2.6l-2.1 -4.8l1.7 -7.5l1.2 -2.1l2.1 -1.7zM276.7 93.9l1.9 -0.5l1 0.4l1.2 1.6l0.8 2.5l0.1 2.8l-0.1 1.3l-1 1.4l-1 0.3l-2 -0.7l-1.6 -2.3l-0.6 -2.1l0.1 -2.1l0.6 -2.2zM218.8 101.7l1 -0.5l2 0.2l1 1.7l0.4 2.9l-0.4 2.4l-2.7 1.9l-0.8 1.1l-0.3 2.1l0.3 2.1l2.5 3.1l0.1 1.2l-1.1 2.6l-1 0.9l-1 0.1l-0.9 -1.3l-1 -4.1l-1.6 -2.5l-0.4 -3.2l0.4 -2.1l1.8 -2.1l0.8 -4.3zM265.9 105.9l1.9 -0.5l3 0.2l2 0.5l1.3 1.0l0.6 2.1l-1.9 3.2l-0.6 2.2l-0.7 1.0l-2.7 0.5l-1.2 -0.5l-0.9 -1.0l-1.4 -5.4l-0.1 -2.1zM277.6 110.3l4 -0.7l5.9 0.0l0 8.9l-2 0.2l-3.4 2.3l-1.5 -0.1l-0.9 -1.0l-1.1 -2.8l-2.4 -2.5l0 -3.2zM209.1 123.4l2 1.8l1.8 3.2l0.8 2.1l0.1 2.2l-0.7 3.2l-1 1.0l-1 0.5l-2.9 0.2l0 -14.2zM244.3 127.3l3 -0.7l2.5 0.8l0.7 2.1l-0.3 2.1l-0.6 1.1l-1.3 1.0l-4.9 1.8l-1.8 1.4l-4.9 10.7l-1.3 4.3l-3.5 4.2l-1.3 3.2l-3.9 3.1l-1 0.2l-2.9 -1.5l-5.3 -1.8l-0.2 -1.1l0.6 -1.0l3.2 -3.2l-0.9 -5.3l1.6 -3.2l2 -1.3l3.3 -0.9l3.4 -3.2l3.1 -2.2l5.8 -1.3l1.4 -0.7l0.4 -1.1l0.2 -4.9l1 -1.3zM252.2 145.3l1 0.0l0.9 0.9l2 2.8l0.5 1.8l-0.4 2.1l-2.1 2.2l-0.9 0.1l-1 -0.7l-1.9 -4.8l0.9 -3.1zM272.8 156.9l1.9 -0.5l1 0.2l0.7 0.6l0.1 1.0l-0.5 1.1l-2.3 1.0l-1.9 -0.9l-0.4 -1.2zM209.1 157.2l1 0.4l4.1 3.8l0.5 3.2l-0.1 4.3l-0.5 2.0l-1 0.9l-4.9 -0.2l0 -14.4zM265.9 159.1l1 0.2l-1 0.8l-0.3 -0.8zM238.4 166.3l2 -0.3l3 0.5l4.8 2.3l1 1.2l0 1.0l-1.3 4.3l-0.1 5.3l0.4 0.7l1 0.4l4 -1.4l0.9 0.1l0.8 1.3l-0.9 3.2l-1.8 1.9l-3 1.2l-1.9 -0.2l-1.4 -5.1l-4.5 -3.3l-2 -0.2l-3.1 1.4l-2.7 0.7l-1 -0.1l-0.8 -0.6l-0.1 -1.1l1.3 -3.1l1.1 -4.3l3.4 -5.0zM267.9 167.0l1 -0.2l0.4 1.0l-0.4 1.4l-1 0.4l-0.9 -0.7zM214.9 182.6l12.3 2.3l1.3 1.0l-0.2 11.8l0.5 1.0l2.8 3.2l0.2 1.1l-0.5 1.0l-2.3 2.2l-0.7 2.1l1 7.5l-0.4 6.4l-2.9 4.2l-1.3 5.5l-0.9 0.9l-2 0.6l-3 0.0l-1.4 -0.6l-1.5 -1.6l-0.3 -1.6l2.7 -7.4l2 -3.2l0.5 -4.3l3.3 -4.3l0.2 -1.0l-0.3 -6.4l-1.1 -2.1l-3.1 -3.3l-2.5 -2.1l-0.6 -1.0l0.8 -3.2l-0.5 -2.2l-4.1 -4.2l0.1 -1.2l1 -0.9zM263.9 197.3l2 -0.7l1 0.1l0.9 0.6l0.5 1.4l-0.3 1.1l-1.1 1.5l-1 0.2l-1 -0.3l-1.7 -1.4l-0.4 -1.1zM269.8 214.5l1 0.1l4.1 2.2l1 1.1l0.2 1.1l-0.7 2.1l-1 1.1l-2.6 1.4l-2 0.4l-1.7 -0.8l-0.3 -1.0l0.6 -6.4zM243.4 218.9l1.7 1.1l1.7 2.2l0.3 1.0l-0.8 0.6l-2 0.0l-2.5 -1.6l-0.3 -1.1l0.2 -1.1l0.7 -0.8zM260.0 230.3l1 -0.4l1.6 0.8l1.5 2.1l0.6 2.1l-0.4 2.2l-0.7 1.0l-1.6 1.4l-2 0.6l-1.3 -0.9l-0.4 -2.1l0.5 -4.3zM241.4 232.2l1 0.5l1.3 2.2l2.6 2.1l3 4.3l0.7 2.2l-0.2 1.0l-0.8 1.1l-1.7 0.4l-1 -0.2l-1 -0.6l-1.4 -1.7l-1.2 -3.2l0.1 -4.3l-1.4 -2.2l-0.3 -1.0zM209.1 233.1l3.2 0.8l1.8 3.4l1 4.0l0.2 8.6l-0.6 2.1l-2.2 3.2l-2.4 4.9l-1 0.7l-0.9 0.0l0 -27.7zM261.0 256.1l2 -0.8l2.9 0.7l1 1.3l0.9 3.8l2.3 0.5l0.3 1.0l-1.6 0.4l-1.2 -1.4l-0.7 -0.3l-1.1 0.3l-1 1.0l-0.3 2.2l-0.6 0.6l-3.9 2.2l-1 1.1l-2.4 5.7l-2.5 1.3l-1.9 -0.1l-1 -1.1l-0.5 -2.3l1.5 -9.6l1 -1.2l4.8 -2.0zM225.7 260.2l1 -0.6l1 0.3l0.9 1.1l0.1 2.7l-1 1.1l-1 -0.1l-1 -1.0l-0.4 -2.1zM276.7 261.3l0.9 -0.2l1.3 0.5l-0.1 1.0l-1.2 1.0l-0.9 -0.1l-0.7 -0.9l0.2 -1.0zM274.7 267.6l2.9 -0.1l4 1.3l1.2 2.4l0.1 3.2l0.6 1.9l1 0.7l3 0.4l0 12.9l-16.3 0.0l1 -17.0l1.3 -4.3z" fill="#ffaa00" stroke="#000" stroke-width="0.7" stroke-opacity="0.9"/>
<path d="M281.6 21.9l1 0.2l0.5 0.9l0.3 3.2l-0.8 2.5l-2 1.5l-1 -0.2l-0.6 -0.6l-0.4 -2.2l1.8 -4.2zM238.4 46.2l2 -0.2l2 0.3l1.2 1.2l0.1 1.0l-0.3 1.1l-4 4.9l-1.9 1.1l-1 -0.4l-0.5 -1.3l-0.1 -4.3l0.9 -2.1zM283.5 53.7l4 -0.4l0 6.3l-1 0.0l-2 -0.8l-3 -2.8l0 -1.1zM246.3 68.4l1 0.2l0.7 1.2l0.3 7.5l-0.1 1.1l-0.7 1.0l-1.2 0.2l-1.8 -1.2l-1 -3.2l1.4 -5.4l0.4 -0.8zM278.6 96.3l1 -0.1l1 1.5l0 3.0l-1 0.7l-1 -0.5l-0.6 -1.2l-0.1 -2.2zM219.8 103.5l1 -0.3l1 0.6l0.8 2.2l-0.5 2.2l-1.3 0.7l-1 0.1l-0.8 -0.8l-0.1 -1.1l0.1 -2.1zM267.9 107.7l2 0.2l1.3 1.3l-0.7 3.2l-0.6 1.1l-1 0.3l-1 -0.7l-1 -2.8l0.1 -1.8zM216.9 112.0l1 0.4l0 1.2l-1 0.4zM280.6 112.1l2 -0.3l4.9 0.2l0 3.7l-4 0.0l-1.9 -0.5l-2 -1.7l0.4 -1.1zM209.1 127.2l1 0.6l1 1.4l0.8 3.5l-1 2.1l-2.7 0.6l0 -8.2zM245.3 129.1l1 -0.2l1.4 0.6l0.2 1.0l-0.4 1.1l-1.1 1.1l-1.1 0.4l-1 0.2l-0.9 -0.3l-0.4 -1.4l0.3 -1.1zM235.5 138.8l2 -0.4l0.9 0.2l0.5 0.5l-0.4 2.1l-1 2.5l-1 1.1l-1 0.5l-2.9 -0.5l-0.3 -0.4l0.1 -1.1l0.7 -2.1l0.7 -1.1zM228.7 145.4l3 -0.3l0.4 0.4l0.2 3.2l-0.1 2.1l-0.5 1.0l-2.4 2.2l-0.4 1.0l0.4 3.2l-0.6 1.1l-2.9 1.5l-4.8 -1.5l-0.8 -1.1l2.9 -2.1l1.3 -2.1l-0.6 -4.3l0.4 -2.1l1.2 -1.1zM253.2 150.5l0.9 -0.3l0.5 0.6l0.3 1.1l-0.8 1.5l-1.1 -0.5zM209.1 161.8l3 0.8l1 1.0l0.5 2.1l-0.2 2.1l-0.3 0.8l-1 0.8l-3.9 0.0l0 -7.6zM239.4 168.5l2 -0.7l2.4 1.1l0.8 1.1l-0.5 2.1l-1.7 2.1l-1 0.4l-4.9 0.2l-0.6 -0.6l-0.2 -1.0l0.6 -1.1zM251.2 183.7l1.1 0.1l-0.1 1.1l-2.1 1.0l-0.8 -1.0zM218.8 184.8l4 0.6l1.9 1.1l0.5 1.6l-1.4 2.4l-2 0.7l-1 -0.2l-1 -0.8l-2.5 -4.3l0.6 -0.9zM224.7 214.3l1 -0.5l1 0.5l0.8 2.5l0 2.2l-0.8 1.9l-2 2.3l-1.9 6.3l-1 0.6l-1 -0.1l-1 -2.3l0 -3.4l1 -1.4l2.4 -1.8l0.6 -5.3zM271.8 218.4l1.5 0.6l0.2 1.0l-1.7 1.2l-0.5 -0.1l-0.6 -1.1l0.3 -1.0zM209.1 234.8l2 1.0l2 3.4l0.7 3.2l-0.1 5.3l-0.5 3.2l-1.1 2.0l-2 2.6l-1 0.8l-0.9 0.0l0 -21.5zM261.0 235.2l1 0.1l0.1 0.7l-1.1 0.8l-0.3 -0.8zM245.3 239.1l1 0.6l1.9 2.6l0 1.5l-0.9 0.4l-1 -0.5l-0.9 -1.3l-0.5 -2.1zM262.9 258.2l0.9 -0.7l1.2 0.9l-1 1.0l-1.1 0.5l-0.5 -0.5zM262.0 260.0l0.4 0.5l-0.4 3.7l-3 2.0l-1.2 1.8l-1.7 3.6l-1 1.1l-1 0.1l-0.9 -0.8l-0.5 -1.9l0.3 -3.2l0.6 -2.1l1.5 -1.1l2.9 -0.4l2 -2.0zM275.7 269.9l1.9 0.1l1 0.5l1 1.7l-0.8 5.3l0.2 12.8l-6.4 0.0l0.6 -15.9l1.1 -3.2zM286.5 280.6l1 0.0l0 5.3l-2 -0.2l-1.2 -0.7l-0.6 -1.1l-0.1 -1.0l0.4 -1.1l1.5 -1.0z" fill="#ff5500" stroke="#000" stroke-width="0.7" stroke-opacity="0.9"/>
<ellipse cx="214.4" cy="66.5" rx="3.0" ry="3.9" transform="rotate(-15 214.4 66.5)" fill="#fff" stroke="#000" stroke-width="0.7" stroke-opacity="0.9"/>
<ellipse cx="283.6" cy="43.2" rx="1.2" ry="1.5" transform="rotate(0 283.6 43.2)" fill="#fff" stroke="#000" stroke-width="0.7" stroke-opacity="0.9"/>
<ellipse cx="267.0" cy="62.5" rx="0.9" ry="1.0" transform="rotate(0 267.0 62.5)" fill="#fff" stroke="#000" stroke-width="0.7" stroke-opacity="0.9"/>
<ellipse cx="255.4" cy="161.8" rx="1.3" ry="2.2" transform="rotate(0 255.4 161.8)" fill="#fff" stroke="#000" stroke-width="0.7" stroke-opacity="0.9"/>
<ellipse cx="223.7" cy="168.2" rx="1.2" ry="1.5" transform="rotate(0 223.7 168.2)" fill="#fff" stroke="#000" stroke-width="0.7" stroke-opacity="0.9"/>
<ellipse cx="209.4" cy="216.0" rx="1.4" ry="2.6" transform="rotate(0 209.4 216.0)" fill="#fff" stroke="#000" stroke-width="0.7" stroke-opacity="0.9"/>
<ellipse cx="234.1" cy="268.8" rx="1.0" ry="1.1" transform="rotate(0 234.1 268.8)" fill="#fff" stroke="#000" stroke-width="0.7" stroke-opacity="0.9"/>
<ellipse cx="264.6" cy="277.3" rx="1.1" ry="1.3" transform="rotate(0 264.6 277.3)" fill="#fff" stroke="#000" stroke-width="0.7" stroke-opacity="0.9"/>
</g>
<rect x="208.81" y="17.35" width="77.9" height="272.20" fill="none" stroke="#000" stroke-opacity="0.65" stroke-width="0.5"/>
<g clip-path="url(#c3)"><rect x="293.84" y="17.1" width="78.4" height="272.70" fill="#fff"/>
<path d="M294.3 16.6l78.4 0.0l0 273.7l-79.4 0.0l0 -273.7z" fill="#0000ff" stroke="#000" stroke-width="0.7" stroke-opacity="0.9"/>
<path d="M294.3 16.6l78.4 0.0l0 273.7l-79.4 0.0l0 -273.7z" fill="#0055ff" stroke="#000" stroke-width="0.7" stroke-opacity="0.9"/>
<path d="M294.3 16.6l78.4 0.0l0 273.7l-79.4 0.0l0 -273.7z" fill="#00aaff" stroke="#000" stroke-width="0.7" stroke-opacity="0.9"/>
<path d="M294.3 16.6l78.4 0.0l0 273.7l-79.4 0.0l0 -273.7zM325.7 262.6l0 3.3l1 1.0l1 -0.2l0.9 -1.3l0 -2.2l-0.9 -1.3l-1 -0.2z" fill="#00ffff" stroke="#000" stroke-width="0.7" stroke-opacity="0.9"/>
<path d="M294.3 16.6l78.4 0.0l0 22.0l-4.9 0.2l-0.4 0.1l-0.4 1.1l1.1 1.1l1.7 0.8l2.9 0.5l0 38.5l-1.9 -0.2l-2 -1.4l-10.8 -11.6l-0.9 -1.6l-0.5 -1.6l-0.5 -7.3l-2 -2.3l-2.9 -1.6l-1 -0.1l-0.8 0.7l-1.5 5.3l-0.3 3.2l1.5 7.4l1.1 2.1l10.8 11.7l2.9 1.6l8.8 -0.1l0 47.1l-9.8 -0.3l-5.8 -3.8l-5.9 -0.5l-3.9 -3.1l-4.3 -1.4l-3.6 -2.9l-4.9 -1.9l-1.1 -1.6l-1 -4.3l-2.6 -4.2l-1.5 -4.3l-2.6 -3.3l-2 -1.7l-2.9 -0.8l-4.9 0.3l-1.7 1.3l-0.6 2.1l0.6 3.2l2.8 4.2l0.4 6.4l0.6 2.2l1.2 2.1l2.6 2.5l5.1 1.8l3.7 2.8l4.2 1.4l3.6 2.8l4.9 1.8l4 3.0l1.9 0.4l6.9 0.0l1.9 0.4l4 2.9l4.8 1.8l4 3.0l1.9 0.2l0 51.6l-1.9 0.2l-1.6 1.2l-0.8 2.1l-0.1 2.1l0.1 3.2l0.8 2.1l1.6 1.3l1.9 0.2l0 34.2l-4.9 0.1l-1.9 0.8l-3 2.9l-1.1 2.1l0.2 1.1l0.9 1.0l1 0.3l8.8 0.2l0 38.9l-79.4 0.0l0 -226.3l2 0.2l2 1.0l2.5 2.5l2.4 3.2l1.9 1.3l2 0.2l1.9 -0.9l1 -1.3l0.4 -1.4l-0.4 -2.7l-2.6 -3.7l-1.4 -4.3l-0.9 -1.4l-4.4 -5.0l-2.4 -3.2l-2 -1.3l-2 -0.1l0 -30.5zM339.0 26.2l-4.5 4.2l-1.3 3.2l-0.3 3.2l0.3 2.1l1.3 2.2l1 0.8l2.9 0.8l7.9 -0.4l3.9 -3.0l3.7 -1.4l1.2 -1.1l0 -1.1l-1 -0.9l-3.9 -1.6l-7.8 -7.0l-2 -0.5zM346.7 164.6l-1.4 0.9l-0.4 1.3l-0.1 10.6l0.5 3.2l1 1.1l1 0.0l2.9 -2.0l1.7 -2.3l0.6 -2.1l0.1 -4.3l-0.4 -2.8l-0.9 -1.4l-3.1 -2.0zM330.1 194.5l-0.6 1.0l0.1 2.2l1 1.0l1 -0.1l0.8 -0.9l0.4 -1.1l-0.2 -2.1l-1 -0.8zM315.9 247.7l-0.9 1.1l0.2 2.1l4.6 5.3l1.2 2.2l0.3 9.6l0.5 2.1l1.9 2.1l1 0.4l2 -0.2l2.9 -2.5l1.1 -1.9l0.8 -3.2l-0.1 -3.2l-2.2 -5.4l-0.2 -5.3l-0.4 -1.5l-0.9 -1.3l-2 -0.8l-7.9 -0.1z" fill="#55ffaa" stroke="#000" stroke-width="0.7" stroke-opacity="0.9"/>
<path d="M294.3 16.6l11.6 0.0l0.2 1.7l1 1.2l0.9 0.0l0.9 -0.8l0.3 -2.1l16.1 0.0l0.7 3.2l2.8 4.2l0 3.2l-1.1 1.7l-1 0.6l-6.9 0.7l-3.9 3.0l-2 0.9l-20.6 0.1l0 -17.6zM345.3 16.6l27.4 0.0l0 18.8l-5.9 -0.1l-3.4 -0.6l-1.7 -1.1l-2.7 -3.0l-4.4 -1.2l-3.4 -2.9l-3.9 -1.6l-1.1 -0.9l-1.2 -2.1l-0.2 -5.3zM315.9 37.6l2.9 -0.5l3 0.5l8.8 5.1l1.9 2.6l2 4.7l5.2 6.0l1.2 3.2l0.2 5.3l3.1 5.3l1.4 5.4l4.6 5.3l1.2 2.1l-0.5 2.1l-1.3 2.2l-0.8 2.1l-0.1 8.5l0.4 2.2l1.1 2.1l6.9 7.2l1.9 0.5l1 -0.5l3.2 -4.0l1 -2.1l0.5 -6.4l1.2 -2.2l3.9 -3.9l2.9 -0.7l0 38.2l-8.8 -0.3l-1.9 -1.0l-7.6 -6.7l-2.2 -0.6l-4 -0.1l-1.9 -0.6l-7.8 -8.3l-3 -7.3l-6.9 -7.6l-2.9 -1.5l-8.8 -0.3l-1 -0.4l-1 -1.0l0.3 -2.1l3.6 -4.3l1.2 -2.1l-0.4 -2.2l-1.4 -2.1l-0.8 -2.1l-0.4 -6.4l-2.8 -4.3l-2 -5.3l-9.3 -11.7l-3.7 -8.5l0.2 -1.1l1.8 -1.5l11.8 -0.2zM359.0 42.1l3 -0.4l2.9 1.3l2.6 2.3l2.3 5.0l1 0.6l1.9 0.1l0 17.2l-4.9 -0.1l-2.9 -1.5l-3.6 -4.2l-1.2 -5.4l-1.1 -2.6l-1 -1.2l-3.4 -2.5l-1.5 -2.2l-0.4 -2.1l0.6 -2.1l1.4 -1.1zM294.3 68.6l2 1.1l0.8 1.2l0.7 2.1l0 3.2l-1.5 3.2l-2 1.3l-1 0.0l0 -12.1zM294.3 93.7l11.8 0.2l1.9 0.9l1.2 1.7l0.3 2.1l0 10.6l-0.4 3.2l-1.1 2.0l-1.9 2.3l-2.9 2.3l-2 0.3l-7.9 0.1l0 -25.7zM294.3 127.9l5.9 1.2l5.9 -1.2l6.9 0.0l1.9 0.4l4.9 3.5l5.9 0.5l2 0.9l0.9 1.3l0.4 1.4l0.3 5.3l0.3 1.1l1 0.9l1 0.2l1 -0.3l2.9 -2.0l2 -0.4l1.9 0.8l3.9 3.1l6.9 0.6l5.9 2.8l5.9 1.6l4.8 3.5l5.9 0.4l0 38.1l-2.9 -0.6l-3.9 -3.1l-5.9 -0.5l-1.3 -0.4l-1.2 -1.1l-0.9 -3.2l0.1 -14.9l-0.4 -2.1l-0.7 -1.1l-2.5 -1.5l-3.9 -1.8l-2.9 -0.5l-3 0.8l-1.1 0.9l-1.1 2.1l-0.2 13.9l-0.7 3.2l-4.7 5.0l-4.9 1.5l-2 1.3l-2.3 2.8l-0.8 2.2l-0.3 3.2l0.2 3.2l3.2 5.3l0.5 2.1l-0.5 3.2l-2.9 4.3l-0.3 1.0l0.3 1.5l2 1.7l3.9 1.3l13.7 0.4l2.9 1.5l6.8 7.5l1.2 2.1l0.4 5.3l-0.4 2.2l-1.1 2.0l-2.9 3.2l-2 1.3l-2 0.5l-2.9 0.0l-2 -0.5l-3.9 -3.0l-1.9 -0.8l-7.9 -0.1l-1.9 -0.3l-4 -3.0l-1.9 -0.8l-8.8 0.0l-1.3 0.4l-1.2 1.1l-1.8 5.3l-2.3 3.2l-0.7 2.1l0.2 2.1l1.2 1.8l4.9 1.6l1.9 1.3l1.6 1.7l1.6 3.2l0.3 6.4l1.1 3.2l3.3 3.6l2.9 1.2l3 -0.5l0.9 -0.7l2 -2.6l1.5 -3.1l1.1 -4.3l1 -9.6l2.3 -2.7l2.9 -1.8l3 -0.4l6.8 0.1l2 0.7l4.9 3.4l9.8 0.6l3.9 3.0l2.9 0.7l0 30.5l-31.7 0.0l0.7 -3.2l3.7 -4.2l1.4 -2.2l-0.5 -1.3l-2 -0.6l-3 0.9l-6.7 6.4l-1.2 2.1l-0.3 2.1l-4.1 0.0l-0.3 -2.1l-1 -1.6l-2 -1.0l-2 -0.1l-2.9 0.2l-2 0.9l-1.1 1.6l-0.2 2.1l-24.2 0.0l0 -9.2l2 -0.2l1 -0.6l1 -1.3l0.4 -1.5l-0.3 -2.1l-0.5 -1.0l-1.6 -1.2l-2 -0.2l0 -55.9l2 -0.2l1.6 -1.1l0.8 -2.2l0.1 -2.1l-0.1 -6.4l-0.4 -2.5l-1.7 -1.7l-2.3 -0.4l0 -72.6zM317.7 163.6l-3.3 1.0l-9.8 5.4l-3.3 2.1l-1 1.1l0.6 1.0l4.2 0.4l2.9 -0.7l3 -2.4l3.9 -2.1l3.2 -4.8zM343.3 192.2l1 -0.3l2 0.2l3.9 3.1l4.9 1.7l3 2.9l0.9 2.1l-0.2 1.1l-0.9 1.0l-1.8 0.6l-10.8 0.0l-2.9 -1.0l-1 -1.4l-0.4 -1.3l-0.1 -4.3l0.9 -3.2zM359.0 209.2l2 -0.3l1.9 0.7l3.9 4.1l1 1.5l0.4 1.6l-0.2 2.2l-1.2 2.1l-3.9 4.0l-1.9 0.7l-2 -0.3l-1 -0.6l-1.4 -2.7l0.1 -9.6l0.9 -2.2z" fill="#aaff55" stroke="#000" stroke-width="0.7" stroke-opacity="0.9"/>
<path d="M294.3 16.6l7.3 0.0l0 1.0l-0.4 2.2l-3.8 8.5l-2.1 1.3l-2 0.2l0 -13.2zM366.9 21.8l2 -0.5l3.9 0.0l0 11.3l-5.9 -0.3l-1.4 -0.8l-0.7 -1.1l-0.4 -2.1l0.2 -3.2l0.9 -2.1zM317.9 40.7l2 -0.4l2 0.5l4.9 2.7l1.9 1.5l1 1.4l2 5.3l4.8 6.4l0.5 2.1l0.3 5.4l0.9 2.1l2.2 3.2l0.5 2.1l-0.4 1.7l-1 1.5l-3 3.2l-1.9 1.3l-1.9 0.2l-1.4 -0.4l-4.5 -4.3l-1.2 -2.1l-0.4 -6.4l-0.4 -1.5l-1 -1.6l-3.9 -3.5l-5.9 -3.2l-2 -1.9l-1.9 -3.2l-0.6 -4.3l0.4 -3.2l0.5 -1.0l1.4 -1.1zM362.0 45.3l1.9 1.1l0.5 1.1l-0.3 4.2l-1.2 1.1l-2.8 -2.1l-1.8 -2.2l0 -1.0l0.8 -1.1zM294.3 98.3l1.3 0.3l1.4 1.1l0.5 1.0l0.2 2.2l-0.4 1.4l-1 1.3l-1 0.6l-2 0.2l0 -8.1zM370.8 98.4l1.9 -0.2l0 25.2l-2.9 -0.6l-2 -1.8l-2.5 -3.2l-0.9 -3.2l0 -3.2l0.5 -1.9l2.8 -4.5l1.5 -5.3zM294.3 132.4l1.4 0.3l1.6 0.9l4.8 5.5l2 1.2l2 0.2l1.5 -0.4l4.4 -3.4l1.9 -0.2l2 0.8l3.8 3.9l1.2 2.1l0.4 2.2l0 7.4l-0.3 2.1l-1.2 2.2l-5.9 4.5l-12.7 6.8l-5.9 1.7l-2 0.2l0 -38.0zM350.2 150.4l2 -0.3l1.9 0.7l4.9 3.2l0.8 1.0l0.6 2.2l-0.3 2.1l-0.7 1.1l-1.4 0.6l-1.9 -0.3l-3 -1.4l-2.9 -2.1l-0.8 -1.1l-0.6 -2.1l0.2 -2.1zM326.7 162.4l1.9 -0.5l2 0.3l2 1.0l2.5 2.5l1.6 3.2l0.2 6.4l-0.5 2.1l-0.9 1.6l-2 2.2l-1.9 1.5l-3 0.6l-7.8 0.2l-1 0.3l-0.9 1.1l0.2 2.1l2 4.3l0.4 10.6l0.9 2.1l2.3 3.2l0.3 1.1l-0.3 2.1l-2.3 3.2l-0.9 2.2l0 3.2l1.3 2.2l4.2 3.1l0.2 1.1l-1.3 2.1l-2.2 1.8l-1.9 0.7l-4 0.2l-2.1 -0.6l-1.8 -2.0l-1.3 -4.4l-2.6 -3.9l-1.3 -4.6l-2.6 -3.9l-1.3 -4.6l-2.4 -3.2l-1.2 -4.7l-0.9 -1.7l-4 -3.9l-1 -0.5l-2 -0.2l0 -13.0l14.7 0.1l3 -0.4l1.8 -1.3l4.1 -4.1l2.9 -5.7l3.9 -3.4zM370.8 162.4l1.9 -0.2l0 16.6l-1.9 -0.2l-1 -0.6l-1 -1.3l-0.4 -1.4l0 -9.6l0.9 -2.1zM294.3 221.6l4.9 0.4l1 0.6l1.2 1.7l0.4 3.2l-0.1 22.4l-0.3 3.1l-3.3 8.6l-1.8 1.9l-3 0.6l0 -42.5zM340.4 255.9l7.8 -0.2l2 0.5l3.9 2.7l4.9 2.1l1.2 1.6l0.8 3.2l1 0.9l0.9 -0.1l4.9 -2.3l4.9 -0.1l0 26.1l-16.2 0.0l-0.1 -13.8l-0.3 -1.4l-1 -1.2l-2 -0.2l-5.8 1.8l-6.9 0.8l-4.9 3.2l-1 0.0l-1 -0.8l-0.2 -3.3l2.2 -10.9l2.1 -6.1l0.8 -1.3z" fill="#ffff00" stroke="#000" stroke-width="0.7" stroke-opacity="0.9"/>
<path d="M294.3 16.6l3.3 0.0l-0.1 2.1l-0.9 3.2l-1 2.1l-1.3 1.1l-1 0.0l0 -8.5zM318.8 43.8l2 -0.4l2.9 1.1l2.7 1.9l1.3 2.1l0.7 3.2l-0.1 2.2l-1 2.1l-2.6 2.3l-1.9 0.1l-5.9 -2.4l-1.6 -1.1l-1.4 -2.1l-0.3 -3.2l0.9 -2.1zM300.2 145.3l2 -0.3l11.7 0.1l1.4 0.4l1.3 1.0l0.6 2.2l-0.6 3.2l-2.3 3.1l-1.2 3.2l-0.9 1.1l-8.1 5.1l-3.9 1.1l-1.9 -0.8l-2.6 -2.2l-2.4 -0.4l0 -11.3l0 -1.8l3 -0.7zM326.7 165.6l1.9 -0.2l2 0.8l1.4 1.6l1 3.2l0 3.2l-0.6 2.2l-1.8 1.9l-2 0.7l-2.9 0.0l-2.2 -0.5l-1.4 -1.1l-0.7 -2.1l-0.2 -3.2l0.4 -2.1l1.6 -2.2zM308.1 192.1l2 -0.2l2 0.8l3.9 3.9l1 1.7l0.4 2.6l0 7.4l-0.4 2.1l-1 1.0l-1 0.2l-1 -0.4l-3 -2.9l-0.9 -1.7l-1.2 -4.7l-2.7 -3.6l-0.4 -1.7l0.3 -2.1l1.1 -1.7zM294.3 226.1l2 0.6l1.1 1.8l1.3 7.5l0.2 7.5l-0.5 4.2l-1.1 2.2l-2 1.3l-2 0.2l0 -25.3zM294.3 256.4l0.7 0.9l-0.1 1.1l-0.6 0.7l-1 0.0l0 -2.7zM343.3 260.3l4.9 -0.3l3 1.0l2.2 1.6l2 2.2l0.3 1.0l-0.3 2.2l-2.3 2.1l-4.9 2.0l-2.9 0.5l-2.9 -0.6l-3.1 -3.0l-1 -2.1l0.7 -2.1l1.5 -2.2l0.9 -1.1zM366.9 269.0l2 -0.5l3.9 0.0l0 21.8l-12.2 0.0l0 -12.8l0.5 -3.0l1.5 -2.3z" fill="#ffaa00" stroke="#000" stroke-width="0.7" stroke-opacity="0.9"/>
<path d="M320.8 47.2l2 0.3l1.9 2.1l0.2 2.1l-0.3 1.1l-0.9 1.1l-0.9 0.5l-3.1 -0.5l-1.4 -1.1l-0.6 -1.1l0.1 -2.0l0.8 -1.2zM294.3 234.9l1.2 1.1l0.8 2.1l0 5.2l-1 2.7l-1 0.7l-1 0.0l0 -11.8zM347.3 264.7l1.9 -0.1l1 0.7l0.4 0.5l0 1.1l-0.4 0.6l-1 0.6l-2 -0.1l-1 -1.1l0 -1.1zM367.8 273.0l4.9 -0.2l0 17.5l-8.2 0.0l0.1 -13.8l1.1 -2.1z" fill="#ff5500" stroke="#000" stroke-width="0.7" stroke-opacity="0.9"/>
</g>
<rect x="294.09" y="17.35" width="77.9" height="272.20" fill="none" stroke="#000" stroke-opacity="0.65" stroke-width="0.5"/>
<g clip-path="url(#c4)"><rect x="379.12" y="17.1" width="78.4" height="272.70" fill="#fff"/>
<path d="M379.6 16.6l78.4 0.0l0 273.7l-79.4 0.0l0 -273.7z" fill="#0000ff" stroke="#000" stroke-width="0.7" stroke-opacity="0.9"/>
<path d="M379.6 16.6l78.4 0.0l0 273.7l-79.4 0.0l0 -273.7z" fill="#0055ff" stroke="#000" stroke-width="0.7" stroke-opacity="0.9"/>
<path d="M379.6 16.6l78.4 0.0l0 111.2l-2 -0.1l-5.8 -2.4l-11.8 -0.2l-2 0.4l-1.4 0.8l-0.9 2.1l0.4 1.7l1 1.4l2.9 3.3l2 1.2l2.9 0.4l14.7 -0.1l0 154.0l-79.4 0.0l0 -273.7z" fill="#00aaff" stroke="#000" stroke-width="0.7" stroke-opacity="0.9"/>
<path d="M379.6 16.6l78.4 0.0l0 106.8l-6.8 -1.2l-14.8 0.2l-5.8 1.2l-5.9 0.4l-1.7 1.2l-0.7 2.2l0.7 3.1l3.7 4.3l1.6 1.1l4.2 1.1l4.1 3.1l2.8 0.6l18.6 0.0l0 149.6l-79.4 0.0l0 -273.7z" fill="#00ffff" stroke="#000" stroke-width="0.7" stroke-opacity="0.9"/>
<path d="M379.6 16.6l78.4 0.0l0 24.1l-2.9 0.0l-0.9 0.4l2.6 1.0l1.2 0.1l0 72.9l-3.9 0.0l-2 0.4l-3.9 3.1l-2 0.6l-23.5 0.2l-2.9 -0.9l-6.9 -6.3l-1.9 -1.2l-1 -0.1l-2 0.9l-1 1.4l-0.5 4.6l0.4 3.2l1.2 2.1l15.6 16.8l2 0.7l4.9 0.2l5 2.5l3.8 1.2l7.8 0.7l5.9 2.3l4.9 0.1l0 142.7l-79.4 0.0l0 -273.7zM401.2 163.6l-4 2.0l-3.9 1.3l-1.4 0.9l-2 2.2l-1.2 2.1l-0.1 1.1l0.8 1.0l2 0.5l2.9 0.0l2 -0.6l1.3 -0.9l5 -5.4l2 -3.2l-0.1 -1.0l-0.4 -0.3zM412.5 192.3l-1.2 1.1l-0.5 1.1l-0.1 2.1l0.3 1.1l1.9 2.0l1 0.4l2 -0.1l0.9 -0.6l1.2 -1.7l0.2 -2.2l-0.4 -1.5l-1 -1.3l-0.9 -0.6l-2 -0.2zM411.1 248.8l-2.2 2.1l-1 2.1l0.1 1.1l1 1.1l1 0.4l2 -0.2l0.9 -0.6l1 -1.5l0.3 -1.3l-0.2 -2.1l-0.8 -1.1l-1.2 -0.3zM411.1 262.6l-0.4 2.2l0.3 1.2l1 0.8l0.9 -0.3l1.2 -1.7l-0.2 -2.2l-1 -0.9l-0.9 0.1z" fill="#55ffaa" stroke="#000" stroke-width="0.7" stroke-opacity="0.9"/>
<path d="M379.6 16.6l7.5 0.0l0.2 2.1l1.1 1.6l2 0.9l2 0.2l2.9 -0.2l1.9 -0.8l1.1 -1.7l0.3 -2.1l59.4 0.0l0 20.4l-2.9 -0.3l-8.9 -2.4l-12.7 -0.2l-1.9 -0.8l-3.5 -2.9l-2.4 -0.4l-2 0.7l-2.9 2.6l-4.9 1.7l-3 2.9l-1 2.1l0.2 1.1l1.3 2.1l9.3 10.5l1 0.5l1 -0.2l1 -1.2l0.8 -3.2l1.2 -2.1l2.9 -3.2l2.9 -1.6l4.9 -0.1l4.9 -1.3l2.9 -0.1l3 1.2l5.9 3.6l2.9 0.7l0 59.7l-2 -0.2l-0.9 -0.6l-5.9 -5.9l-1.6 -1.1l-2.3 -0.5l-3.9 0.1l-2 0.9l-1.1 1.6l-0.4 2.2l0.1 7.4l-0.9 3.2l-1.3 1.1l-1.3 0.4l-8.8 0.0l-2 -0.7l-2.9 -2.6l-3.6 -1.4l-1.3 -1.0l-1 -1.5l-1.4 -3.9l-3.5 -4.2l-3 -1.5l-3.9 -0.2l-1.9 0.4l-1.9 1.3l-3.7 4.2l-0.8 3.2l-0.1 8.5l-0.4 1.4l-1 1.3l-2.9 1.1l-3.9 -0.3l-1 -0.5l-2.9 -3.9l-2 -0.7l-2 -0.1l0 -28.5l2 0.3l1 0.7l2.8 5.8l1.3 1.1l1.7 0.4l1.5 -0.4l1.5 -1.2l3.6 -4.2l0.7 -2.1l-0.2 -2.1l-0.6 -1.1l-1.3 -1.1l-1.2 -0.4l-12.8 0.1l0 -14.5l3 0.2l5.8 1.3l4 -0.1l1.2 -0.4l1.3 -1.1l0.6 -1.0l0.2 -2.2l-0.4 -1.6l-1 -1.6l-9.5 -10.6l-0.7 -2.1l-0.1 -5.4l-0.9 -2.1l-1.5 -1.2l-2 -0.2l0 -22.0zM434.6 53.9l-0.5 2.1l0.2 4.2l1.2 2.0l0.9 0.1l0.9 -1.0l0.4 -1.1l0 -5.3l-0.3 -1.0l-1 -1.1l-0.9 0.0zM379.6 128.1l5.9 3.5l1.9 0.6l4 -0.2l1.9 -0.8l2 -1.5l1.9 -0.4l3.8 2.3l3.2 1.1l1.9 1.9l0.9 3.7l2.7 4.0l0.8 3.2l-0.1 8.5l-0.4 1.3l-1 1.3l-7.8 3.7l-9.8 3.9l-2.3 1.5l-4.6 4.2l-1.9 0.6l-4 0.0l0 -42.4zM424.7 145.3l2.9 -0.3l4 0.2l10.7 3.3l7.9 1.8l7.8 0.5l0 41.0l-3.9 0.0l-2.1 0.5l-1.9 2.2l-0.5 3.2l0.5 4.2l1.1 2.1l3.9 4.0l2.9 0.6l0 81.7l-79.4 0.0l0 -22.1l1.6 -0.2l1.1 -1.1l0 -1.1l-0.7 -0.8l-2 -0.4l0 -47.4l3 -0.7l3.8 -3.9l1.2 -2.2l0.4 -3.2l-0.2 -7.4l-0.7 -2.1l-1.2 -1.1l-1.4 -0.4l-4.9 -0.1l0 -17.1l15.7 0.1l2 -0.3l1.9 -1.1l4 -4.0l4.8 -7.2l6.2 -6.1l2.1 -5.4l1.5 -2.0l5.9 -6.5zM432.1 162.5l-4.5 4.2l-1.1 2.2l-0.4 12.8l0.4 3.2l1.1 1.9l2.9 3.4l5 4.9l2.9 1.0l3.9 -0.3l1.6 -1.3l0 -1.1l-1 -1.1l-3.5 -1.7l-1.4 -2.5l-0.3 -22.4l-1.1 -2.1l-1.1 -1.0l-2 -0.5zM404.6 179.5l-3.5 3.2l-0.9 1.7l-0.2 1.5l1.2 2.2l4.6 5.3l1.4 5.3l3.1 5.3l0.5 6.4l1.2 2.2l2.9 3.1l2.9 1.6l8.8 0.0l2 -0.8l3 -2.5l4.8 -2.0l1.1 -1.6l0.5 -4.2l-0.5 -3.2l-1.1 -1.6l-1.9 -1.0l-3.9 -0.1l-2.3 -0.5l-1.7 -2.0l-1.3 -4.4l-3.6 -4.3l-1.9 -1.2l-3.9 -1.3l-7.9 -7.0l-1.9 -0.5zM396.9 234.9l-3.6 3.2l-1.6 2.2l-1.4 5.3l-1.9 4.0l-1 3.4l-0.4 2.2l0.3 2.1l1.1 1.8l2 0.8l7.8 -1.5l3 0.2l2.9 1.0l1.2 0.9l1.1 2.1l0.5 7.5l1.1 1.7l1 0.7l2 0.1l1.9 -0.9l3 -2.6l1.5 -2.2l0.9 -3.2l0.1 -8.5l0.7 -2.2l1.1 -1.0l3.5 -0.6l25.5 0.0l2 -0.5l1 -1.0l-0.3 -2.2l-1.7 -2.1l-2 -1.8l-2 -0.8l-36.2 -0.2l-2.9 -1.5l-5.9 -6.0l-2 -0.8z" fill="#aaff55" stroke="#000" stroke-width="0.7" stroke-opacity="0.9"/>
<path d="M426.6 16.6l31.4 0.0l0 17.3l-3.9 -0.6l-6.9 -3.2l-6.8 -0.6l-4.9 -3.5l-7.2 -0.9l-1.3 -1.1l-0.7 -2.1l-0.1 -5.3zM397.2 43.1l2 -0.5l6.9 0.0l2.9 1.1l3 2.7l5.1 6.4l1.7 4.5l1 1.4l4.2 1.5l1.6 1.1l7.6 8.5l0.8 3.2l-0.1 4.3l-0.7 2.1l-2.6 3.9l-0.5 2.5l0.1 17.1l2.6 5.3l-0.1 1.0l-0.9 1.1l-3.2 0.2l-2 -1.2l-3.5 -4.3l-1.3 -4.7l-2 -2.8l-3 -2.8l-4 -1.4l-1.8 -1.7l-0.4 -1.5l0.4 -2.5l1.7 -1.8l3.2 -0.9l1.5 -1.2l0.8 -2.2l-0.2 -2.1l-1.2 -2.1l-5.5 -6.4l-1.7 -5.3l-2.6 -3.3l-1.9 -1.7l-4.9 -1.7l-4.6 -5.0l-0.8 -3.2l0.1 -4.3l0.8 -2.1zM445.3 44.1l1.9 0.1l2 0.8l1.9 1.4l3 3.5l1.9 1.1l2 0.1l0 21.4l-4.9 -0.1l-1.9 -0.8l-8.6 -9.2l-0.7 -3.2l-0.1 -11.7l1 -2.2zM379.6 70.0l2 0.6l1 1.1l0.4 1.3l-0.1 1.1l-1.3 1.8l-3 0.6l0 -6.5zM379.6 94.1l2 1.1l3.9 3.4l1.2 2.1l0.2 2.2l-0.8 2.1l-3.5 4.3l-1.5 1.0l-2.5 0.3l0 -16.5zM457.0 94.1l1 0.0l0 3.6l-1.6 -0.2l-1.1 -1.0l0 -1.1l0.7 -0.9zM379.6 132.5l2.2 1.2l0.8 1.2l0.3 2.0l-0.3 1.5l-1 1.3l-1 0.5l-2 0.3l0 -8.0zM393.3 145.3l4.9 -0.4l2 0.5l1.5 1.1l0.8 2.2l0.2 2.1l-0.1 2.1l-0.6 2.1l-1.8 2.0l-3.9 1.3l-3.9 2.1l-4 1.3l-2.9 -0.1l-1 -0.6l-1.1 -1.7l-0.3 -2.1l0.7 -2.2l7.6 -8.4zM435.5 150.3l1.9 -0.2l2 0.6l4.9 3.3l1 1.5l0.4 1.7l-0.3 2.1l-1.1 1.8l-2 0.8l-1.7 -0.5l-5.1 -4.3l-0.8 -1.0l-0.6 -2.1l0.2 -2.1zM456.1 158.2l2 -0.3l0 21.3l-2 0.2l-2.9 2.0l-1.9 0.4l-2 -1.2l-2.6 -3.2l-0.7 -2.1l0.2 -2.1l1.2 -2.2l4.8 -5.4l1.1 -2.0l0.9 -3.4l1 -1.4zM416.9 162.4l2 -0.4l1 0.3l1.6 1.3l0.7 2.1l0 5.3l-1.3 3.2l-3.1 3.2l-1.8 1.3l-2 0.1l-1.9 -1.1l-4 -3.5l-0.6 -1.0l-0.1 -2.2l0.8 -2.1l1.8 -2.1zM393.3 196.4l2 -0.2l1.9 0.7l4.6 5.0l0.7 2.1l0.5 6.4l2.7 4.3l1.3 4.3l2.1 4.2l-0.2 1.1l-1 1.1l-2.8 0.5l-3.9 -0.4l-2 -1.3l-3.6 -4.2l-0.8 -3.2l0 -7.4l-0.3 -2.2l-2.9 -4.2l-0.6 -2.1l0.4 -2.6l1 -1.4zM448.2 213.5l2 -0.4l7.8 0.1l0 25.3l-2 -0.3l-1.4 -1.1l-1.8 -5.4l-5.5 -6.3l-1.2 -2.2l-0.4 -3.2l0.2 -3.2l0.8 -2.1zM379.6 230.1l3.9 0.1l1.3 0.5l1.2 1.0l1 3.2l0 7.5l-1 5.3l-2.5 5.0l-1.9 2.2l-3 0.6l0 -25.4zM424.7 256.0l2.9 -0.3l30.4 0.0l0 34.6l-12.3 0.0l0 -14.9l-0.4 -2.8l-3.9 0.3l-8.9 1.7l-5.9 2.4l-4.8 0.1l-5 2.7l-0.9 -0.1l-1 -1.0l-0.3 -1.2l0.4 -2.1l4.8 -6.5l1.6 -4.1l1.3 -6.9l1 -1.4zM446.5 266.9l-0.5 2.1l0.2 1.8l1 -0.5l1.1 -2.3l-0.1 -1.4l-1 -0.5zM396.3 262.4l1.9 -0.8l2 0.2l1.4 0.8l0.9 2.2l-0.5 2.1l-3 4.3l-0.6 7.4l-2.8 4.3l-0.7 2.1l-0.1 5.3l-16.2 0.0l0 -4.9l2 -0.3l1.9 -1.2l6.9 -7.4l1.1 -2.1l1.2 -4.3l2.2 -3.2l1.2 -3.2z" fill="#ffff00" stroke="#000" stroke-width="0.7" stroke-opacity="0.9"/>
<path d="M405.1 47.3l1.9 -0.2l1 0.4l2 2.1l0.3 2.1l-0.2 1.1l-0.5 1.1l-1.6 1.2l-1.9 0.2l-1.5 -0.4l-1.2 -1.0l-0.5 -1.1l0 -3.2l0.5 -1.1zM414.9 167.6l1.6 0.2l0.2 1.1l-1.2 1.1l-1.9 0.0l-0.4 -1.1zM379.6 238.8l1.3 0.4l1.3 1.1l0.5 1.0l0.2 2.2l-0.3 1.5l-1 1.3l-1 0.5l-2 0.2l0 -8.2zM428.6 260.2l8.8 -0.2l3 0.9l1 1.2l0.4 1.6l-0.2 2.1l-0.8 2.2l-2.5 2.1l-2.8 1.2l-8.9 1.4l-2.4 -0.5l-1 -1.0l-0.2 -1.1l0.8 -4.3l1.9 -3.6l0.9 -1.1zM453.1 268.7l2 -0.4l2.9 0.1l0 21.9l-8.3 0.0l0.2 -14.9l1.3 -4.2z" fill="#ffaa00" stroke="#000" stroke-width="0.7" stroke-opacity="0.9"/>
<path d="M429.6 264.6l2.9 -0.2l2.8 0.4l1 1.0l-0.2 1.1l-1.2 1.1l-1.4 0.3l-4.8 -0.3l-0.9 -1.1l0.2 -1.1zM456.1 273.1l2 -0.2l0 17.4l-4.3 0.0l0.1 -13.8l0.6 -2.1z" fill="#ff5500" stroke="#000" stroke-width="0.7" stroke-opacity="0.9"/>
</g>
<rect x="379.37" y="17.35" width="77.9" height="272.20" fill="none" stroke="#000" stroke-opacity="0.65" stroke-width="0.5"/>
<g clip-path="url(#c5)"><rect x="464.40" y="17.1" width="78.4" height="272.70" fill="#fff"/>
<path d="M464.9 16.6l78.4 0.0l0 273.7l-79.4 0.0l0 -273.7z" fill="#0000ff" stroke="#000" stroke-width="0.7" stroke-opacity="0.9"/>
<path d="M464.9 16.6l78.4 0.0l0 273.7l-79.4 0.0l0 -273.7z" fill="#0055ff" stroke="#000" stroke-width="0.7" stroke-opacity="0.9"/>
<path d="M464.9 16.6l78.4 0.0l0 273.7l-79.4 0.0l0 -273.7zM515.8 125.2l-2 2.2l-0.7 2.1l0.3 1.0l1.5 1.3l5.9 0.5l4.8 2.5l5 1.5l1.9 -0.3l2 -1.1l2 -2.2l0.4 -1.1l-0.1 -1.1l-1.1 -1.0l-2.2 -1.0l-2.9 -0.5l-7.9 -0.1l-1.9 -0.7l-3 -2.0z" fill="#00aaff" stroke="#000" stroke-width="0.7" stroke-opacity="0.9"/>
<path d="M464.9 16.6l78.4 0.0l0 111.2l-4.9 -0.9l-6.9 -3.1l-7.8 -0.1l-6.9 -2.7l-4.9 -0.5l-3.9 -1.0l-4.9 -0.2l-1.9 -0.8l-3 -2.5l-2 -0.7l-2.1 0.3l-0.9 1.1l-0.1 1.1l4.1 8.6l1.3 1.0l3.6 1.2l3.9 2.8l4 1.9l3.9 2.6l1.9 0.5l5.9 0.4l3.2 1.2l3.7 2.1l2 0.5l12.7 0.1l0 149.6l-79.4 0.0l0 -273.7z" fill="#00ffff" stroke="#000" stroke-width="0.7" stroke-opacity="0.9"/>
<path d="M464.9 16.6l78.4 0.0l0 107.0l-3.9 0.0l-1.8 -0.5l-5.1 -3.5l-10.8 -0.6l-7.8 -1.6l-3.9 -1.7l-4.9 -1.4l-4.6 -5.1l-1.2 -4.2l-1.1 -2.1l-2.9 -3.2l-2 -1.2l-3.9 -0.5l-3 0.5l-0.9 0.6l-1 1.3l-0.4 2.5l0.7 2.1l2.8 4.2l0.3 2.2l0 7.4l0.5 2.6l5.3 7.0l2.5 2.5l5 1.9l3.9 2.9l3.9 1.4l4.1 3.0l1.8 0.5l5.9 0.3l1.9 0.9l2 1.8l1.9 1.1l9.8 0.6l2 1.2l2 1.9l2.9 0.6l0 141.3l-79.4 0.0l0 -200.6l2.4 0.4l3.5 2.9l2 0.7l1.9 -0.3l1 -0.5l1 -1.3l0.4 -1.5l-0.7 -3.2l-3.2 -3.2l-3.4 -1.1l-4.9 0.0l0 -66.0zM506.1 38.9l-0.8 1.1l0 1.1l0.9 1.0l1.8 0.3l1 -0.3l0.9 -1.0l0 -1.1l-0.9 -1.1l-1 -0.3zM473.0 121.0l-2.3 2.1l-0.9 2.1l1 1.8l1.9 0.7l1.4 -0.3l1.2 -1.1l0.7 -2.1l-0.3 -2.2l-0.9 -1.0zM487.3 162.5l-1.2 1.1l0.3 1.1l1.7 -0.1l1.4 -1.0l-0.2 -1.1zM516.2 164.6l-0.5 1.1l-0.3 2.1l0.3 12.8l1.1 2.1l2 2.2l2 1.1l0.9 -0.2l1 -1.0l0.5 -2.1l-0.3 -13.8l-1.1 -2.1l-3 -2.4l-1 -0.4zM476.1 168.9l-2.3 2.1l-0.5 1.1l0.4 1.6l0.6 0.5l1.4 0.3l1.7 -0.3l1.2 -0.9l0.9 -1.2l0.4 -2.1l-0.3 -1.3l-1 -0.7l-1 0.1zM497.8 192.3l-1.2 1.1l-0.6 1.1l0.2 3.2l3 4.6l3.6 3.9l1.6 5.3l1.2 1.1l1.4 0.4l3 -0.7l2.1 -1.9l1.5 -2.1l0.2 -2.1l-1.1 -1.1l-3.7 -1.6l-1 -1.2l-0.4 -1.4l-0.1 -5.4l-0.9 -2.1l-1.5 -1.2l-2 -0.4l-2.9 0.0zM493.8 247.7l-1.2 1.1l-0.5 1.1l-0.2 2.1l0.4 1.5l1 1.3l1 0.5l1.9 0.4l1 -0.3l1 -0.6l1.2 -1.8l0.1 -2.1l-0.4 -1.0l-2 -2.2l-1.8 -0.4zM496.4 262.6l-0.4 1.1l0.2 2.2l1 0.9l1 -0.3l1.1 -1.7l-0.2 -2.2l-0.9 -0.9l-1 0.1z" fill="#55ffaa" stroke="#000" stroke-width="0.7" stroke-opacity="0.9"/>
<path d="M464.9 16.6l7.5 0.0l0.2 2.1l0.6 1.1l1.2 1.0l1.3 0.5l18.6 0.1l1.9 -0.1l2 -0.9l1.1 -1.7l0.2 -2.1l43.8 0.0l0 19.1l-5.9 -0.3l-6.8 -1.2l-6.9 0.0l-2 -0.4l-3.9 -3.0l-4.3 -1.4l-3.5 -3.0l-2 -0.7l-2.4 0.5l-3.5 2.8l-1.9 0.8l-11.8 0.1l-2 0.4l-0.9 0.6l-1 1.4l-0.4 2.4l0.4 1.3l1 0.9l0.9 0.1l4 -1.2l1.9 1.1l4.9 4.6l7.5 8.1l3.3 4.2l1 0.4l1 -0.2l1 -1.1l0.8 -3.3l1.1 -2.1l2.9 -3.1l2 -1.4l5.9 -0.4l6.9 -1.4l6.8 1.3l5.9 0.1l0 68.3l-4.9 -0.1l-1.3 -0.5l-1.3 -1.1l-0.9 -3.2l0 -7.4l-0.4 -2.5l-1.6 -1.8l-3.3 -0.5l-3 0.1l-1.9 0.8l-3.7 3.9l-0.5 2.1l2.2 3.9l0.4 1.4l-0.2 2.2l-1.2 1.6l-2.9 1.0l-6.9 0.0l-1.9 -0.4l-1.6 -1.2l-1.2 -4.2l-1.2 -2.0l-12.4 -14.0l-0.4 -2.1l1.2 -3.2l0 -1.1l-2.1 -4.1l-0.9 -3.3l-1 -2.1l-20.6 -22.4l-1 -1.9l-1.4 -4.5l-1.5 -1.2l-2 -0.3l0 -26.2zM520.0 49.6l-0.7 3.2l0.1 11.7l1.4 2.8l0.9 0.6l2 0.2l1.9 -0.9l1.1 -1.6l0.4 -3.2l-0.3 -4.3l-1.1 -2.1l-1.6 -2.1l-1.7 -4.3l-0.7 -0.7l-0.9 0.0zM464.9 68.4l1.3 0.4l1.5 1.0l3.8 4.3l0.7 2.1l-0.1 1.1l-1.3 1.5l-2 0.6l-4.9 0.1l0 -11.1zM464.9 98.1l7.8 0.1l1.3 0.4l1.3 1.1l0.9 3.2l0 7.4l-0.5 2.5l-1.7 1.8l-2.2 0.5l-7.9 0.0l0 -17.0zM464.9 128.1l6.9 3.9l11.7 0.1l2.9 0.9l8.6 9.3l0.7 2.1l0 4.3l0.5 2.1l1 1.6l1 0.7l2 0.3l1.9 -0.8l6.9 -6.8l2.9 -0.8l7.9 0.2l4.9 2.5l8.1 2.0l1.7 1.6l0.5 2.7l-0.7 2.1l-2.1 3.2l-2.6 2.0l-3 0.8l-2.9 -0.1l-2 -0.7l-2.9 -2.2l-2 -0.4l-1.9 1.1l-1.6 1.6l-1.3 2.2l-0.5 2.1l-0.1 12.8l-0.3 2.1l-1.1 1.7l-3 1.0l-15.6 0.1l-1.3 0.4l-1.3 1.1l-0.6 1.0l-0.2 2.2l0.7 2.1l2.7 3.8l1 4.7l2.9 4.5l0.5 1.9l0 4.3l0.8 2.1l3.6 4.2l1.9 1.3l3 0.5l13.7 -0.1l2 -0.4l3.9 -3.0l4.9 -1.8l6.8 -6.7l2 -0.8l4.9 -0.1l0 85.7l-79.4 0.0l0 -77.4l2 -0.2l1.5 -1.2l0.8 -2.1l0.2 -2.2l-0.1 -6.3l-0.4 -2.2l-0.5 -1.0l-1.3 -1.1l-2.2 -0.4l0 -21.4l2 0.3l2.9 1.5l2.5 0.8l6.3 0.9l2 -0.6l2 -1.8l3.7 -4.9l8 -6.3l1.4 -2.2l0.3 -2.1l-0.7 -1.7l-2 -0.9l-1.9 0.1l-3 0.8l-8.8 3.9l-3.9 2.5l-3.9 1.8l-4 2.9l-2.9 0.7l0 -42.4zM478.2 239.2l-1.2 1.1l-0.5 1.0l-0.3 6.4l-0.7 2.2l-1.7 3.1l0.1 2.2l1.8 2.2l1.9 1.4l2 0.2l5.9 -0.5l3.9 1.1l1.1 0.9l1.1 2.1l0.3 6.4l0.7 2.2l1.1 1.0l1.6 0.5l2.9 -1.0l3 -2.7l2 -3.2l0.4 -2.1l0 -7.5l0.9 -3.2l1.5 -1.3l1 -0.3l5.7 -0.5l1.1 -1.0l-0.1 -1.1l-1.8 -1.3l-6.8 -0.1l-2 -0.4l-4.9 -3.4l-4.2 -1.2l-3.6 -2.8l-2 -0.8l-7.8 -0.1zM529.6 247.7l-0.9 1.1l-0.1 1.1l0.9 1.0l1.1 0.3l1.9 -0.3l1 -1.0l-0.1 -1.1l-0.9 -1.1l-1 -0.3zM541.3 153.9l2 -0.2l0 38.1l-3.9 0.0l-3 -0.9l-3.9 -4.0l-1.3 -3.1l-0.2 -4.3l0.9 -3.1l2.7 -4.3l0.7 -7.5l2.7 -4.2l1.8 -5.4z" fill="#aaff55" stroke="#000" stroke-width="0.7" stroke-opacity="0.9"/>
<path d="M511.9 16.6l31.4 0.0l0 16.0l-5.9 -0.3l-3.9 -1.8l-4.9 -1.5l-3.9 -3.0l-5.9 -0.5l-2 -0.7l-4.6 -5.0l-0.6 -2.2l0 -1.0zM482.5 43.1l2 -0.4l6.9 -0.1l2.9 1.1l2 1.6l6.1 7.5l1.7 4.5l1 1.4l4.1 1.5l1.3 1.1l1.8 5.3l2.8 4.3l-0.1 3.2l-1.1 1.7l-2 0.8l-1.9 0.2l-3 -0.2l-1.9 -0.7l-7.9 -8.3l-1.1 -2.0l-0.8 -3.5l-1 -1.4l-2 -0.8l-4.9 -0.2l-2.9 -1.6l-3.6 -4.2l-0.7 -2.2l-0.2 -3.2l0.5 -3.2l1.1 -1.6zM530.5 44.1l3.6 0.2l3.2 1.0l1.1 1.1l1.8 3.8l1 0.6l2 0.2l0 21.3l-2.9 -0.7l-4 -4.0l-1 -2.0l-1.3 -4.3l-2.2 -3.2l-1.5 -4.2l-2.8 -4.3l-0.4 -2.1l0.2 -1.1l1.2 -1.5zM541.3 89.9l2 -0.2l0 16.7l-2.9 -0.6l-1 -1.3l-0.4 -1.6l0 -9.6l0.8 -2.2zM464.9 132.5l2.1 1.2l0.8 1.2l0.4 2.0l-0.4 1.5l-1 1.3l-0.9 0.5l-2 0.3l0 -8.0zM474.7 145.3l1.9 -0.4l5.9 0.0l3.2 0.6l1.2 1.0l0.9 2.2l0.2 3.2l-0.4 2.1l-0.7 1.0l-1.5 1.1l-7.8 2.3l-3.9 2.9l-4.9 1.9l-2.9 2.4l-2 0.3l0 -12.6l2.9 -0.7l5.9 -6.0zM524.7 151.8l1.9 0.1l1.9 1.0l1 1.1l0.1 1.6l-1 1.3l-1 0.5l-2 0.0l-1.6 -1.3l-0.5 -1.1l0 -2.1zM499.2 162.2l1 -0.2l1.9 0.7l3.9 4.1l1.2 2.1l0 3.2l-2.1 3.2l-2 2.1l-1.6 1.1l-3.3 0.5l-3.9 -0.4l-1.6 -1.2l-0.5 -1.0l-0.4 -5.4l1.8 -3.2l3.6 -4.1zM471.8 181.6l1.1 0.1l-0.1 1.0l-1.2 0.0l-0.1 -1.0zM478.6 192.1l2 -0.2l1.9 0.7l4 4.0l1.1 2.1l0.6 11.7l2.8 4.3l1.3 4.3l2.1 4.2l0 1.1l-1.1 2.1l-2 2.1l-1.9 1.3l-2 0.2l-1 -0.2l-1.4 -1.3l-1.8 -5.3l-2.8 -4.2l-0.3 -2.2l-0.1 -8.5l-0.7 -2.1l-2.7 -4.0l-0.4 -2.4l0.3 -5.3l1.1 -1.7zM537.4 217.8l2 -0.5l3.9 0.1l0 25.3l-2.2 -0.3l-1.7 -1.8l-0.4 -1.4l-0.5 -6.4l-2.7 -4.3l-0.7 -2.1l-0.2 -3.2l0.4 -3.2l1.1 -1.6zM469.8 227.4l1 0.2l0.9 0.9l0.5 2.2l-0.1 17.0l-3.7 7.5l-0.2 5.3l-0.4 1.5l-1.6 1.7l-2.3 0.4l0 -34.2l2 -0.2zM510.0 255.9l7.8 -0.3l25.5 0.0l0 34.7l-31.7 0.0l0.2 -2.1l1.1 -1.7l4.9 -1.8l2 -1.7l1.7 -2.3l0.2 -2.1l-1 -1.1l-1.9 -0.4l-6.9 0.0l-2.9 0.7l-7.8 8.4l-1.2 2.0l-0.2 2.1l-31.6 0.0l-0.3 -2.1l-1.1 -1.6l-0.9 -0.6l-2 -0.3l0 -12.9l4.9 -0.2l2 -0.7l8.1 -8.2l2.7 -1.5l2.9 -0.6l1.9 0.7l1.2 1.4l0.1 2.1l-2.4 4.3l0 1.1l1.2 2.1l1.9 2.1l2 1.3l2.9 0.4l3.9 -0.3l3 -1.9l4.2 -4.8l1.6 -3.9l1.3 -7.8l0.7 -1.3z" fill="#ffff00" stroke="#000" stroke-width="0.7" stroke-opacity="0.9"/>
<path d="M490.4 47.3l1.9 -0.2l1 0.4l1.9 2.1l0.4 2.1l-0.1 1.1l-0.5 1.1l-1.7 1.2l-1.9 0.2l-1.5 -0.4l-1.2 -1.0l-0.5 -1.1l0 -3.2l0.5 -1.1zM464.9 238.8l1.9 0.8l1 1.5l0.5 5.6l-0.5 1.7l-1 1.6l-1.3 0.9l-1.6 0.2l0 -12.3zM514.9 259.3l2.9 -0.2l2.7 0.3l4.2 1.0l1.6 1.2l0.8 2.1l0.2 4.3l-0.5 2.1l-1.2 1.6l-1.9 1.0l-2 0.1l-9.8 -0.1l-1.9 -0.3l-1 -0.6l-0.4 -0.6l-0.3 -2.2l0.6 -5.3l0.7 -2.1l1.4 -1.3zM533.5 260.4l1.9 -0.4l7.9 0.0l0 30.3l-12.3 0.0l-0.1 -25.5l1 -3.2z" fill="#ffaa00" stroke="#000" stroke-width="0.7" stroke-opacity="0.9"/>
<path d="M516.8 262.4l2 0.2l2 1.2l1.3 2.0l-0.4 1.5l-0.9 0.7l-3 0.4l-2.9 -0.1l-2 -1.0l-0.4 -1.5l0.4 -1.0l2 -1.6zM537.4 264.6l5.9 -0.3l0 26.0l-8.3 0.0l0.1 -22.3l0.6 -2.2z" fill="#ff5500" stroke="#000" stroke-width="0.7" stroke-opacity="0.9"/>
</g>
<rect x="464.65" y="17.35" width="77.9" height="272.20" fill="none" stroke="#000" stroke-opacity="0.65" stroke-width="0.5"/>
<g clip-path="url(#c6)"><rect x="549.68" y="17.1" width="78.4" height="272.70" fill="#fff"/>
<path d="M550.2 16.6l78.4 0.0l0 273.7l-79.4 0.0l0 -273.7z" fill="#0000ff" stroke="#000" stroke-width="0.7" stroke-opacity="0.9"/>
<path d="M550.2 16.6l78.4 0.0l0 273.7l-79.4 0.0l0 -273.7zM614.8 128.4l-0.9 1.1l0 1.0l1 1.1l1.9 0.3l1 -0.3l0.8 -1.1l-0.8 -1.7l-1 -0.5z" fill="#0055ff" stroke="#000" stroke-width="0.7" stroke-opacity="0.9"/>
<path d="M550.2 16.6l78.4 0.0l0 111.5l-4.9 -0.3l-5 -2.6l-3.9 -1.2l-5.8 -0.3l-2 0.6l-1.8 2.0l-0.6 2.1l-0.1 2.1l0.3 2.2l1.2 2.1l1.3 1.1l1.7 0.5l11.7 -0.1l2 -0.7l3.9 -3.1l2 -0.3l0 158.1l-79.4 0.0l0 -273.7z" fill="#00aaff" stroke="#000" stroke-width="0.7" stroke-opacity="0.9"/>
<path d="M550.2 16.6l78.4 0.0l0 107.0l-5.9 -0.2l-9.8 -2.7l-5.9 0.1l-8.8 3.9l-1.2 1.6l-0.3 4.2l0.4 3.2l1.1 1.7l3.9 1.5l3.9 2.7l2 0.9l20.6 0.2l0 149.6l-79.4 0.0l0 -273.7zM587.1 192.3l-1.3 1.1l-0.5 1.1l-0.1 2.1l0.3 1.1l6.5 8.5l1.3 4.2l1 1.2l1.9 -0.2l2.8 -3.1l0.3 -2.1l-2.2 -4.3l-0.5 -6.4l-0.4 -1.3l-0.9 -1.4l-2 -0.9l-3.9 -0.1z" fill="#00ffff" stroke="#000" stroke-width="0.7" stroke-opacity="0.9"/>
<path d="M550.2 16.6l11.4 0.0l0.2 2.1l1.1 1.6l2 0.9l2.9 0.3l2 -0.4l1.9 -1.3l1 -1.6l0.2 -1.6l55.7 0.0l0 102.7l-7.9 0.0l-5.9 -1.2l-2.9 -0.3l-4.9 0.4l-6.8 1.2l-4.9 -0.4l-2 -1.3l-6.8 -7.4l-1.3 -2.1l-0.7 -3.7l-1 -1.6l-4.9 -4.2l-2.9 -0.7l-4 0.5l-0.9 0.6l-1 1.2l-0.4 2.6l0.7 2.1l2.3 3.2l1.6 5.3l2.3 3.2l1.2 4.3l1.1 2.0l15.7 16.9l1.9 0.7l4 0.0l1.9 0.5l3.9 2.8l2 0.9l5.9 0.4l1.9 0.9l4 2.9l8.8 0.1l0 47.2l-2 0.2l-1.5 1.2l-0.8 2.1l-0.2 3.2l0.3 2.1l1.1 2.1l1.5 1.1l1.6 0.2l0 81.8l-79.4 0.0l0 -196.6l7.8 0.1l2 -0.4l1 -0.6l1 -1.4l0.5 -3.5l-0.4 -4.2l-0.6 -1.1l-1.2 -1.1l-2.3 -0.5l-7.8 0.1l0 -64.5zM591.4 38.9l-0.9 1.1l0 1.1l1 1.0l1.8 0.3l1 -0.2l0.9 -1.1l-0.1 -1.1l-0.9 -1.1l-0.9 -0.3zM555.6 56.0l-1.6 2.1l-0.5 4.3l0.6 2.5l1 1.2l1 0.4l1.9 -0.9l2 -2.2l1 -1.6l0.3 -1.6l-0.4 -2.1l-1.9 -2.1l-2 -0.4zM605.8 58.1l-1.1 2.1l0 3.2l0.6 2.2l0.7 0.7l1 0.0l1.2 -1.8l0.1 -4.3l-0.3 -1.3l-0.7 -0.8zM558.6 121.0l-1.6 0.9l-1.7 2.3l-0.2 1.0l0.3 1.1l1.6 1.3l2.5 -0.2l1.2 -1.1l0.4 -1.1l-0.1 -3.2l-1 -1.0zM573.2 160.4l-1.4 1.0l-3 3.6l-2 1.0l-2.9 0.8l-2 1.5l-2.8 3.8l-0.1 1.1l0.8 1.0l5.1 0.5l2.9 -0.7l3.9 -4.6l5.9 -3.7l1.3 -2.1l-0.3 -2.2l-0.7 -1.0l-1.3 -0.8l-0.9 -0.1zM602.5 162.5l-1.1 1.1l-0.6 2.1l-0.1 8.5l-0.3 2.2l-1.2 2.1l-3.1 3.2l-2.8 1.5l-11.8 0.2l-1.9 0.4l-1 1.1l0.3 2.1l2 4.3l0.1 4.2l0.5 2.2l2.5 4.2l0.8 2.1l0.6 7.0l4 4.9l1.4 0.9l1.5 0.5l8.8 0.0l2 -0.9l2 -1.7l1.9 -2.1l1.1 -2.2l0.7 -7.4l2.8 -4.3l0.7 -2.1l0.2 -3.2l-0.5 -3.2l-2.7 -4.3l-0.7 -2.1l-0.3 -18.1l-1.1 -2.1l-1.2 -1.0l-1.9 -0.5zM616.7 245.6l0.1 2.1l1 0.8l1 0.0l1 -0.8l0 -2.1l-1 -1.0l-1 0.0zM567.5 247.7l-1.7 1.2l-2.8 3.1l-0.1 2.1l1 1.1l1.9 0.4l14.8 0.2l1.9 -0.6l1 -1.1l0.1 -1.1l-1 -2.1l-1.9 -2.1l-1.7 -1.1l-2.4 -0.5l-5.8 0.0zM579.2 260.5l-1.6 1.9l-1 4.0l-1.5 3.7l0.1 1.1l1 1.0l1.4 0.5l3.9 -0.1l2 -0.8l1.9 -1.7l1.5 -3.2l-0.1 -2.1l-1.4 -2.6l-1.9 -1.6l-2 -0.7z" fill="#55ffaa" stroke="#000" stroke-width="0.7" stroke-opacity="0.9"/>
<path d="M550.2 16.6l3.4 0.0l-0.1 5.3l-0.4 1.3l-1 1.4l-0.9 0.6l-2 0.2l0 -8.8zM593.3 16.6l35.3 0.0l0 21.8l-2 -0.2l-3.9 -1.5l-1 0.1l-1 0.9l-0.1 1.2l0.7 1.1l1.7 1.1l3.6 1.1l2 0.1l0 38.6l-2 -0.3l-1.8 -1.2l-7 -7.5l-1.2 -2.1l-1.1 -4.2l-2.6 -3.7l-1.1 -4.9l-1.8 -2.8l-2 -1.6l-1 -0.4l-1 0.0l-3.9 1.6l-1 -0.2l-1.1 -0.8l-1.6 -2.1l-0.4 -2.2l1.2 -2.1l2.9 -2.9l3.9 -1.4l1 -1.0l0.1 -1.1l-2 -3.2l-11.5 -12.8l-0.8 -3.2l0 -4.2zM576.6 21.6l2 0.0l1 0.6l3.8 4.0l1.3 2.1l0 3.2l-3.4 5.3l-0.1 2.1l0.4 1.1l9.3 10.7l5.5 7.4l0.4 2.1l0.3 9.6l3.1 5.1l1.3 4.5l2.7 4.3l0.4 2.1l0.1 8.5l0.7 2.2l2.2 3.2l0.8 2.1l-0.1 10.6l-0.5 1.1l-1.8 1.2l-5.8 0.3l-3 -1.1l-7.2 -7.9l-0.9 -2.1l-0.6 -3.2l-1.1 -1.7l-3.9 -1.6l-3.9 -2.9l-4.2 -1.2l-1.4 -1.1l-0.8 -3.2l0 -14.9l-0.4 -3.2l-2.7 -4.3l-1.6 -5.3l-5 -6.4l-4.3 -4.2l-0.5 -1.1l0.5 -2.1l2.8 -3.2l1.9 -1.2l6.7 -2.0l1.5 -1.1l0.8 -1.1l2.9 -6.4l0.1 -1.0l-2.4 -4.3l-0.1 -2.1l1.2 -2.1zM550.2 68.6l2 1.2l0.9 1.4l0.4 1.8l-0.4 1.7l-1 1.1l-0.9 0.5l-2 0.2l0 -7.9zM626.6 85.7l2 -0.3l0 25.5l-3.9 0.0l-2.3 -0.6l-1.7 -1.8l-0.5 -2.5l0 -10.6l0.3 -3.2l2.2 -3.2zM550.2 98.1l3.9 0.1l2 0.6l2.1 1.9l1.8 3.2l-0.2 1.1l-1 1.0l-3.7 1.5l-3.6 2.8l-2.3 0.4l0 -12.6zM550.2 128.1l1.9 0.9l4 2.6l2.9 0.7l3.9 -0.5l4.9 -3.6l2 -0.2l1.9 0.7l3 2.6l3.9 1.3l1.5 1.1l1.8 5.4l2.6 4.0l0.9 3.6l1 1.5l1 0.6l3 0.1l4.5 -3.4l4.3 -0.6l2.9 0.7l3 2.3l1.9 1.1l4.9 0.2l2 0.6l3.7 3.1l1.9 2.1l0.7 2.2l0.3 5.3l0.3 1.1l0.9 0.8l1 0.0l1 -1.1l0.4 -1.9l0.1 -4.2l0.8 -2.2l1.6 -1.1l2 -0.2l0 37.9l-3 -0.6l-2.9 -2.6l-3.9 -1.3l-1.5 -1.2l-1 -3.2l0 -11.7l-0.3 -2.1l-6 -8.1l-2 -1.9l-2 -0.9l-2.9 -0.4l-2.9 0.2l-1.3 0.4l-1.3 1.1l-0.9 3.2l0 7.5l-0.5 2.5l-0.9 1.7l-2.9 3.2l-2 1.3l-3 0.3l-9.8 0.0l-2.2 -0.5l-1.7 -1.8l-0.3 -2.5l0.9 -2.1l5.6 -5.3l1.7 -3.2l0.2 -2.2l-0.7 -3.2l-0.5 -1.9l-1 -1.0l-2 0.2l-4.9 2.5l-5.9 4.0l-5.3 2.6l-2.5 2.2l-3.7 4.2l-1.6 3.2l0.1 1.1l1.3 1.5l1.9 1.1l3 0.9l6.8 0.6l1.6 1.2l0.8 2.1l0.2 5.4l0.7 2.1l6.5 7.4l4 5.7l0.4 1.8l0 7.5l0.7 3.2l4.7 5.0l4.2 1.4l1.7 1.7l0.6 3.6l-0.2 3.2l-2.3 5.3l0.2 1.1l0.7 0.9l3 1.5l0.7 0.8l0 1.0l-0.9 1.1l-1.8 0.5l-10.8 0.0l-2.9 -0.8l-2.9 -2.6l-2 -0.7l-7.9 -0.1l-1.9 0.3l-1 0.6l-1 1.5l-1.4 5.6l-3.3 7.4l-3 4.3l-0.7 3.2l0.6 4.1l1 1.1l1 0.2l3.9 -2.3l3.9 -1.4l3.4 -2.8l2.5 -0.4l1.4 0.4l1.3 1.1l0.6 2.1l-0.5 2.1l-2.4 4.3l0 1.1l1 2.1l2.5 2.5l2 1.0l5.8 0.2l2 -0.6l1.9 -1.7l3.6 -6.7l0.5 -3.2l-0.7 -5.4l0.2 -4.2l0.7 -2.2l1.2 -1.0l2.4 -0.6l17.6 -0.1l7.9 1.1l5.9 -1.1l3.9 0.1l0 38.9l-39.9 0.0l-0.3 -2.3l-1 -1.4l-1 -0.7l-1.9 -0.4l-5.9 0.0l-2 0.1l-1.9 0.9l-1.1 1.7l-0.2 2.1l-24.2 0.0l0 -73.1l2.9 -0.6l2.1 -1.9l2.8 -4.0l0.5 -3.5l-0.1 -7.4l-0.7 -2.1l-1.3 -1.1l-1.3 -0.4l-4.9 -0.2l0 -67.9zM618.8 209.1l1.9 -0.1l4.9 3.5l3 0.5l0 25.5l-2 -0.2l-1.9 -1.3l-10.8 -11.6l-1.1 -2.2l-0.5 -4.2l0.6 -3.5l1.9 -2.9l2.1 -2.2z" fill="#aaff55" stroke="#000" stroke-width="0.7" stroke-opacity="0.9"/>
<path d="M601.1 16.6l27.5 0.0l0 17.4l-6.9 -0.8l-4.9 0.9l-2.9 0.2l-2 -0.2l-1.9 -0.8l-8.6 -9.3l-0.8 -3.2l0 -4.2zM574.7 43.1l2.9 -0.3l2 0.9l2 1.6l6 7.5l2.1 5.3l2.4 3.2l0.6 3.2l0 8.5l-0.8 2.2l-1.5 1.2l-1 0.3l-2 -0.3l-2.9 -2.3l-2.6 -3.2l-1.3 -4.3l-1.1 -2.1l-2.8 -3.2l-5.5 -5.3l-1.3 -2.1l-0.8 -4.3l0.4 -3.2l2.2 -2.1zM614.9 42.9l2 -0.2l2 0.4l3.9 1.3l3.9 2.0l2 0.3l0 25.6l-2 -0.2l-1 -0.5l-4 -3.9l-0.9 -1.6l-1.2 -4.8l-2.4 -3.2l-1.4 -4.2l-2.7 -4.3l-0.6 -2.1l0.3 -2.2l1.2 -1.8zM626.6 94.2l2 -0.2l0 12.4l-3 -0.6l-0.9 -1.4l-0.4 -1.5l0.2 -6.4l1.1 -1.8zM595.3 98.4l2.9 0.0l1.5 1.3l1.4 4.4l2.2 4.1l0 1.0l-0.9 1.1l-1.3 0.3l-1.9 -0.4l-2 -1.6l-3.3 -3.6l-0.9 -2.1l0.1 -2.2l1.2 -1.8zM550.2 132.5l2.3 1.2l6.5 6.0l4.9 1.9l3.6 2.8l4.2 1.4l2.9 2.9l1 2.1l-0.7 2.1l-2.3 2.1l-4.8 2.7l-10.6 6.9l-6 5.3l-2 0.3l0 -37.7zM586.4 163.4l1 0.2l1.3 2.1l0.1 5.3l-0.4 1.4l-1 1.5l-1 0.5l-1.9 0.2l-1.3 -0.4l-1.4 -1.0l-0.7 -2.2l0.7 -2.1l2.7 -3.9l0.9 -1.2zM550.2 179.3l3.5 1.3l1.1 1.1l-0.4 1.0l-1.3 0.4l-3.9 0.1l0 -3.9zM563.9 196.4l1.9 -0.2l2 0.7l4.6 5.0l0.7 2.1l0.4 6.4l2.8 4.3l1.6 5.3l2.9 4.3l0.2 2.1l-0.7 2.1l-2.7 3.3l-1.9 1.3l-2 -0.4l-2.9 -3.2l-1.1 -2.0l-1.3 -4.3l-2.7 -4.2l-0.6 -11.8l-2.9 -4.2l-0.6 -2.1l0.3 -2.6l1 -1.4zM550.2 221.7l4.9 0.3l1 0.7l1 1.6l0.5 3.2l-0.1 14.9l-0.9 5.3l-1.5 4.1l-3 2.9l-1.9 0.8l-1 0.0l0 -33.8zM595.3 256.0l2.9 -0.3l30.4 0.0l0 34.6l-20.1 0.0l0 -4.2l-0.4 -2.2l-1.2 -2.1l-2.8 -3.2l-3 -1.4l-7.8 -0.2l-2 -0.4l-0.9 -0.7l-0.7 -1.5l0 -1.1l1.8 -5.3l1.6 -9.6l1.2 -1.9zM550.2 281.4l3.9 0.0l1.1 0.4l1.3 1.1l0.9 2.1l0 5.3l-3.9 0.0l-0.4 -2.1l-1 -1.4l-1.9 -1.1l-1 0.0l0 -4.3z" fill="#ffff00" stroke="#000" stroke-width="0.7" stroke-opacity="0.9"/>
<path d="M609.0 16.6l19.6 0.0l0 13.2l-11.8 0.0l-2.9 -0.7l-3.9 -4.0l-1 -1.8l-0.5 -3.5l0 -3.2zM575.7 47.2l2.9 0.3l1.9 2.1l0.4 2.1l-0.2 1.1l-0.6 1.1l-1.5 1.2l-1 0.2l-1.9 -0.4l-1.9 -2.1l-0.5 -2.1l0.4 -1.9l1 -1.2zM618.8 47.3l2.6 0.2l4.2 3.0l3 0.6l0 12.7l-2 -0.2l-1.5 -1.2l-1.7 -5.4l-3.6 -4.3l-1.8 -3.1l-0.2 -1.1zM560.0 149.6l2.9 -0.4l2.9 0.2l1.1 0.3l0.9 0.9l0.2 1.3l-0.4 1.0l-4.2 4.3l-4.4 3.1l-3.9 1.4l-5.9 0.3l0 -8.5l5.9 -0.4zM550.2 230.3l1.9 0.8l1 1.4l0.4 1.4l0 12.8l-0.4 2.1l-1 1.3l-1.2 0.8l-1.7 0.2l0 -20.8zM600.2 259.4l4.9 -0.7l7.8 1.3l15.7 0.0l0 30.3l-12.3 0.0l-0.1 -13.8l-0.7 -2.1l-1.2 -1.1l-2.4 -0.5l-11.7 -0.1l-2 -0.6l-2 -1.3l-0.9 -1.2l-0.7 -1.6l0.3 -3.2l2.3 -3.8z" fill="#ffaa00" stroke="#000" stroke-width="0.7" stroke-opacity="0.9"/>
<path d="M604.1 261.6l2.9 0.5l2.7 1.6l1.5 2.1l-0.3 1.4l-0.9 0.8l-2 0.4l-6.9 0.0l-1.9 -0.8l-0.7 -1.8l1.2 -2.1l1.4 -1.2zM622.7 264.6l5.9 -0.3l0 26.0l-8.3 0.0l0 -22.3l0.8 -2.2z" fill="#ff5500" stroke="#000" stroke-width="0.7" stroke-opacity="0.9"/>
</g>
<rect x="549.93" y="17.35" width="77.9" height="272.20" fill="none" stroke="#000" stroke-opacity="0.65" stroke-width="0.5"/>
<rect x="41.60" y="21.5" width="19.51" height="19.4" fill="#fff"/>
<text x="42.70" y="35.6" font-size="14" font-weight="bold" fill="#000" stroke="#000" stroke-width="0.25">(a)</text>
<rect x="126.88" y="21.5" width="20.28" height="19.4" fill="#fff"/>
<text x="127.98" y="35.6" font-size="14" font-weight="bold" fill="#000" stroke="#000" stroke-width="0.25">(b)</text>
<rect x="212.16" y="21.5" width="19.51" height="19.4" fill="#fff"/>
<text x="213.26" y="35.6" font-size="14" font-weight="bold" fill="#000" stroke="#000" stroke-width="0.25">(c)</text>
<rect x="297.44" y="21.5" width="20.28" height="19.4" fill="#fff"/>
<text x="298.54" y="35.6" font-size="14" font-weight="bold" fill="#000" stroke="#000" stroke-width="0.25">(d)</text>
<rect x="382.72" y="21.5" width="19.51" height="19.4" fill="#fff"/>
<text x="383.82" y="35.6" font-size="14" font-weight="bold" fill="#000" stroke="#000" stroke-width="0.25">(e)</text>
<rect x="468.00" y="21.5" width="16.39" height="19.4" fill="#fff"/>
<text x="469.10" y="35.6" font-size="14" font-weight="bold" fill="#000" stroke="#000" stroke-width="0.25">(f)</text>
<rect x="553.28" y="21.5" width="20.28" height="19.4" fill="#fff"/>
<text x="554.38" y="35.6" font-size="14" font-weight="bold" fill="#000" stroke="#000" stroke-width="0.25">(g)</text>
<text x="33.8" y="22.77" font-size="10.4" text-anchor="end">2</text>
<text x="33.8" y="56.52" font-size="10.4" text-anchor="end">1.5</text>
<text x="33.8" y="90.27" font-size="10.4" text-anchor="end">1</text>
<text x="33.8" y="124.02" font-size="10.4" text-anchor="end">0.5</text>
<text x="33.8" y="157.77" font-size="10.4" text-anchor="end">0</text>
<text x="33.8" y="191.52" font-size="10.4" text-anchor="end">-0.5</text>
<text x="33.8" y="225.27" font-size="10.4" text-anchor="end">-1</text>
<text x="33.8" y="259.02" font-size="10.4" text-anchor="end">-1.5</text>
<text x="33.8" y="292.77" font-size="10.4" text-anchor="end">-2</text>
<text x="43.20" y="304.6" font-size="10.4" text-anchor="middle">-0.5</text>
<text x="76.95" y="304.6" font-size="10.4" text-anchor="middle">0</text>
<text x="110.70" y="304.6" font-size="10.4" text-anchor="middle">0.5</text>
<text x="77.20" y="319.8" font-size="11.4" text-anchor="middle">x/<tspan font-style="italic">δ</tspan></text>
<text x="128.48" y="304.6" font-size="10.4" text-anchor="middle">-0.5</text>
<text x="162.23" y="304.6" font-size="10.4" text-anchor="middle">0</text>
<text x="195.98" y="304.6" font-size="10.4" text-anchor="middle">0.5</text>
<text x="162.48" y="319.8" font-size="11.4" text-anchor="middle">x/<tspan font-style="italic">δ</tspan></text>
<text x="213.76" y="304.6" font-size="10.4" text-anchor="middle">-0.5</text>
<text x="247.51" y="304.6" font-size="10.4" text-anchor="middle">0</text>
<text x="281.26" y="304.6" font-size="10.4" text-anchor="middle">0.5</text>
<text x="247.76" y="319.8" font-size="11.4" text-anchor="middle">x/<tspan font-style="italic">δ</tspan></text>
<text x="299.04" y="304.6" font-size="10.4" text-anchor="middle">-0.5</text>
<text x="332.79" y="304.6" font-size="10.4" text-anchor="middle">0</text>
<text x="366.54" y="304.6" font-size="10.4" text-anchor="middle">0.5</text>
<text x="333.04" y="319.8" font-size="11.4" text-anchor="middle">x/<tspan font-style="italic">δ</tspan></text>
<text x="384.32" y="304.6" font-size="10.4" text-anchor="middle">-0.5</text>
<text x="418.07" y="304.6" font-size="10.4" text-anchor="middle">0</text>
<text x="451.82" y="304.6" font-size="10.4" text-anchor="middle">0.5</text>
<text x="418.32" y="319.8" font-size="11.4" text-anchor="middle">x/<tspan font-style="italic">δ</tspan></text>
<text x="469.60" y="304.6" font-size="10.4" text-anchor="middle">-0.5</text>
<text x="503.35" y="304.6" font-size="10.4" text-anchor="middle">0</text>
<text x="537.10" y="304.6" font-size="10.4" text-anchor="middle">0.5</text>
<text x="503.60" y="319.8" font-size="11.4" text-anchor="middle">x/<tspan font-style="italic">δ</tspan></text>
<text x="554.88" y="304.6" font-size="10.4" text-anchor="middle">-0.5</text>
<text x="588.63" y="304.6" font-size="10.4" text-anchor="middle">0</text>
<text x="622.38" y="304.6" font-size="10.4" text-anchor="middle">0.5</text>
<text x="588.88" y="319.8" font-size="11.4" text-anchor="middle">x/<tspan font-style="italic">δ</tspan></text>
<text transform="translate(9.5,153.5) rotate(-90)" font-size="11.4" text-anchor="middle">z/<tspan font-style="italic">δ</tspan></text>
<rect x="641.1" y="259.10" width="12.0" height="30.50" fill="#0000ff"/>
<rect x="641.1" y="228.90" width="12.0" height="30.50" fill="#0055ff"/>
<rect x="641.1" y="198.70" width="12.0" height="30.50" fill="#00aaff"/>
<rect x="641.1" y="168.50" width="12.0" height="30.50" fill="#00ffff"/>
<rect x="641.1" y="138.30" width="12.0" height="30.50" fill="#55ffaa"/>
<rect x="641.1" y="108.10" width="12.0" height="30.50" fill="#aaff55"/>
<rect x="641.1" y="77.90" width="12.0" height="30.50" fill="#ffff00"/>
<rect x="641.1" y="47.70" width="12.0" height="30.50" fill="#ffaa00"/>
<rect x="641.1" y="17.50" width="12.0" height="30.50" fill="#ff5500"/>
<rect x="641.35" y="17.75" width="11.5" height="271.30" fill="none" stroke="#333" stroke-width="0.5"/>
<line x1="650.6" y1="47.70" x2="653.1" y2="47.70" stroke="#222" stroke-width="0.6"/>
<text x="656.8" y="51.40" font-size="10.4">0.01</text>
<line x1="650.6" y1="108.10" x2="653.1" y2="108.10" stroke="#222" stroke-width="0.6"/>
<text x="656.8" y="111.80" font-size="10.4">-0.005</text>
<line x1="650.6" y1="168.50" x2="653.1" y2="168.50" stroke="#222" stroke-width="0.6"/>
<text x="656.8" y="172.20" font-size="10.4">-0.02</text>
<line x1="650.6" y1="228.90" x2="653.1" y2="228.90" stroke="#222" stroke-width="0.6"/>
<text x="656.8" y="232.60" font-size="10.4">-0.035</text>
<line x1="650.6" y1="289.30" x2="653.1" y2="289.30" stroke="#222" stroke-width="0.6"/>
<text x="656.8" y="293.00" font-size="10.4">-0.05</text>
<text x="618.6" y="9.6" font-size="10.4">(p-p<tspan font-size="7.5" dy="2.8">ref</tspan><tspan dy="-2.8">)/q</tspan><tspan font-size="9.5" dy="4.0">∞</tspan><tspan dy="-4.0" dx="-1.0"> [-]</tspan></text>
</svg></body></html>
